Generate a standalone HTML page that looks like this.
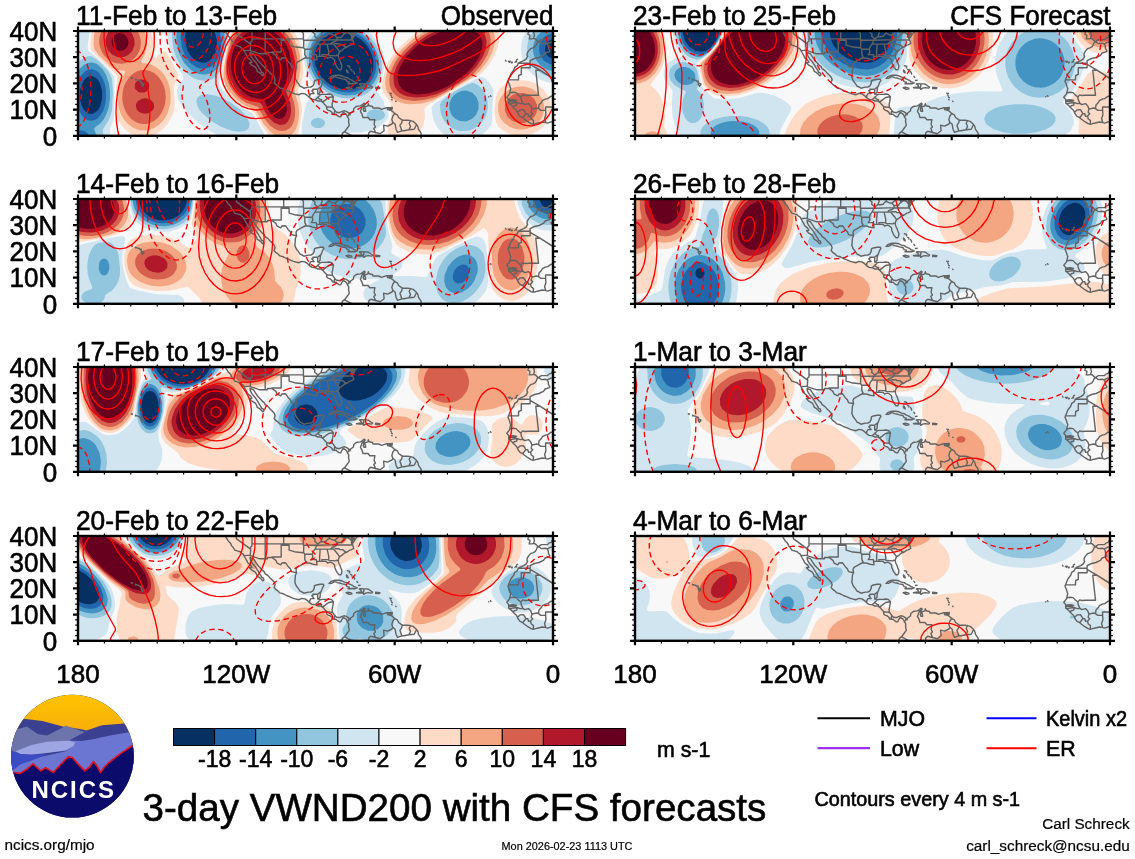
<!DOCTYPE html>
<html lang="en"><head><meta charset="utf-8"><title>3-day VWND200 with CFS forecasts</title>
<style>html,body{margin:0;padding:0;background:#fff}body{width:1135px;height:859px;overflow:hidden}svg{display:block}text{font-family:'Liberation Sans', Arial, Helvetica, sans-serif;fill:#000;stroke:#000;stroke-width:.6px}.sm{stroke-width:.2px}.er{fill:none;stroke:#ff0000;stroke-width:1.35;stroke-linejoin:round}.dash{stroke-dasharray:5.5 3.5}.cst{fill:none;stroke:#636363;stroke-width:1.4;stroke-linejoin:round;stroke-linecap:round}.t26{font-size:26px}.t21{font-size:21.3px}</style></head><body>
<svg width="1135" height="859" viewBox="0 0 1135 859">
<rect width="1135" height="859" fill="#fff"/>
<defs>
<g id="coast" class="cst"><path d="M147.2 -1.3L147.0 -0.5L148.3 1.8L150.4 5.2L151.7 6.3L153.1 8.1L153.3 9.4L155.2 11.5L156.8 14.1L160.2 15.2L162.3 15.7L162.8 16.5L165.2 18.1L166.0 19.6L167.0 21.5L168.9 24.9L169.7 26.7L172.6 29.1L173.9 31.4L171.5 31.8L173.4 33.8L175.2 34.8L177.3 36.2L178.7 38.5L179.2 40.3L180.8 41.1L183.1 43.0L184.7 44.8L186.0 44.0L185.2 41.9L183.7 41.4L182.9 39.6L181.3 37.2L179.7 34.3L178.7 32.8L177.3 30.7L175.5 28.8L173.6 26.2L172.3 23.6L172.1 21.5L175.5 22.8L177.3 25.7L178.9 28.0L179.7 29.3L182.1 31.7L183.9 33.8L186.3 35.9L187.1 37.7L190.0 39.6L191.6 41.4L194.2 44.0L196.1 45.9L197.1 48.5L196.6 50.3L196.1 51.4L197.4 53.2L199.8 54.8L201.9 56.9L205.3 57.8L208.5 59.5L211.4 60.7L214.8 62.1L218.8 63.3L221.1 63.7L223.8 62.4L226.9 62.9L229.6 64.7L231.7 66.8L234.1 68.4L237.5 68.9L240.1 70.0L243.3 70.0L244.1 71.0L245.4 71.8L246.7 73.6L248.8 75.7L248.6 77.8L250.4 79.4L251.8 79.6L254.1 81.5L254.4 82.8L256.2 83.3L258.1 83.1L259.4 84.6L261.5 85.9L262.8 85.7L263.6 83.8L265.2 81.5L267.8 82.8L268.9 84.4L269.4 85.9L270.8 87.8L270.5 90.4L271.3 94.3L268.6 98.0L267.1 100.1L264.4 102.4L263.6 104.8L262.6 106.1M270.9 82.1L268.4 80.4L266.5 79.8L264.2 80.4L261.2 81.7L258.1 81.0L257.0 79.6L254.4 76.2L254.1 73.4L254.7 70.7L255.4 65.8L253.3 63.4L250.7 63.0L248.1 63.4L244.1 63.4L242.2 63.7L240.4 63.1L242.0 61.6L242.2 59.0L242.5 56.6L243.8 53.7L244.4 51.9L245.9 49.3L245.2 48.2L242.2 48.2L238.3 49.0L236.4 49.8L236.2 52.4L234.9 54.8L232.8 56.1L230.4 56.1L225.9 57.2L223.8 55.8L221.9 55.0L220.6 52.9L218.2 49.8L216.9 46.4L217.2 42.4L217.4 39.3L218.6 36.8L218.0 33.3L219.0 31.4L221.7 29.9L224.3 28.3L226.9 27.0L229.6 26.9L232.2 27.2L234.1 28.0L237.0 28.6L239.1 28.8L238.6 26.5L239.3 25.4L242.8 25.4L244.9 25.4L248.1 25.4L249.6 27.0L252.5 26.2L254.7 27.2L256.5 28.8L256.8 31.4L258.1 34.6L259.1 36.4L261.0 38.8L262.8 38.8L263.6 37.2L263.9 34.6L262.6 31.4L262.3 30.1L261.2 28.0L260.5 26.2L260.2 24.4L261.0 21.7L261.8 20.7L264.2 19.1L266.5 17.0L269.2 16.0L271.8 14.1L273.1 13.9L275.8 12.4L275.2 10.5L274.4 8.1L273.4 7.3L273.7 5.2L273.1 2.6L274.2 1.6L274.4 3.9L274.7 7.3L276.3 5.2L277.0 3.9L276.0 2.1L277.3 2.8L278.7 1.6L279.7 0.0L279.7 -1.6M270.9 82.1L272.1 83.8L272.6 82.0L273.7 81.2L275.5 79.9L275.8 77.6L277.6 76.0L279.2 75.2L282.4 74.9L284.5 73.6L286.1 72.2L287.1 72.8L286.8 73.9L285.3 75.7L286.1 76.2L285.3 78.6L286.1 80.4L287.6 80.4L287.4 78.1L286.3 76.2L289.8 74.9L290.3 72.8L291.1 74.7L294.5 75.5L295.0 77.0L298.2 77.0L300.8 77.0L303.5 78.3L305.6 77.6L308.8 76.8L311.7 76.8L310.1 77.3L309.5 78.6L312.7 79.4L314.6 80.4L316.7 82.5L319.3 83.8L320.6 86.5L323.3 88.3L324.6 89.1L327.5 89.3L329.9 89.1L332.5 89.6L335.1 90.4L337.0 92.0L338.6 93.5L339.9 95.6L340.4 98.2L341.7 100.1L343.1 102.2L343.1 104.0L341.5 105.3L339.9 106.4M251.0 47.4L253.3 45.3L256.0 44.5L257.6 44.1L260.7 44.3L263.9 44.8L266.5 46.1L269.2 46.6L271.0 47.9L274.4 49.3L275.5 50.3L278.4 51.6L279.3 51.9L277.1 52.7L274.4 52.5L270.0 52.8L271.3 51.1L269.2 50.6L267.8 48.5L264.2 47.9L262.6 47.2L259.1 46.6L258.6 46.1L256.5 45.6L254.9 46.6L253.3 47.4L251.0 47.4M278.5 56.7L282.4 57.1L285.0 57.1L285.8 58.3L287.6 57.1L290.3 56.6L293.7 57.1L294.6 56.1L292.9 55.0L290.5 53.2L288.4 52.9L285.8 52.9L282.9 52.7L281.3 52.9L282.9 54.2L283.9 56.1L281.0 56.2L278.5 56.7M268.2 56.7L270.5 56.3L273.7 57.1L273.9 57.9L271.3 58.4L268.6 57.1L268.2 56.7M297.7 56.3L301.9 56.6L301.6 57.6L297.7 57.6L297.7 56.3M311.7 76.8L314.3 76.5L314.0 78.3L311.7 78.3L312.7 77.3L311.7 76.8M268.6 39.0L269.7 40.3L270.2 41.9L268.9 41.1L268.4 39.8L268.6 39.0M269.4 34.8L271.3 35.1L271.8 35.9L271.3 36.9M272.6 38.3L273.9 39.0L273.9 40.1M275.5 40.6L276.3 41.7L276.6 43.0M280.5 49.5L282.1 49.3M278.9 45.3L279.7 46.4M311.9 62.1L313.5 62.4L312.4 62.9L311.9 62.1M313.5 66.0L314.3 66.8M313.0 64.2L313.2 64.7M313.8 68.4L314.0 68.9M317.7 70.2L318.0 70.5M63.3 51.9L66.0 53.2L64.4 55.2L63.3 53.4L63.3 51.9M61.5 49.9L63.3 50.3L62.3 50.8L61.5 49.9M59.9 49.3L61.2 49.5M57.5 48.3L58.8 48.7L57.8 49.0L57.5 48.3M53.4 46.8L54.5 46.9L54.1 47.4L53.4 46.8M451.5 -0.8L450.2 1.8L449.9 3.4L451.8 4.2L451.8 5.5L451.2 7.9L453.9 7.9L455.5 7.3L456.8 7.6L458.4 8.9L460.2 10.5L461.0 10.1L463.4 8.6L467.1 8.6L469.5 8.6L470.8 7.1L473.2 6.3L474.5 3.9L475.5 3.1M455.5 7.3L456.5 4.7L455.7 1.3L456.8 -0.8M475.8 10.7L472.4 11.3L469.2 12.8L467.1 12.3L463.1 12.6L461.0 10.7L459.4 11.0L458.4 13.6L457.1 15.7L454.9 16.8L452.6 17.7L450.6 19.9L449.1 22.3L449.1 24.6L449.7 25.2L448.3 27.8L445.7 29.6L441.0 31.6L440.2 32.5L439.4 34.6L436.7 36.4L435.7 39.3L433.0 42.7L432.0 45.1L430.0 50.3L431.5 53.7L432.2 56.3L432.8 57.4L431.5 62.9L428.8 66.3L430.7 68.6L430.7 72.0L431.5 72.8L433.6 74.4L435.4 76.5L438.1 78.9L438.8 79.9L439.9 82.5L442.0 85.4L444.7 86.7L446.5 88.3L449.9 90.7L453.1 92.7L455.2 93.4L459.2 92.2L464.4 91.0L467.1 91.4L469.7 92.2L472.4 91.2L475.8 89.9M430.4 30.5L432.2 30.1L431.5 31.3L430.4 30.5M433.3 31.2L434.4 31.2L433.8 32.0L433.3 31.2M437.0 31.2L438.3 29.9L438.5 30.9M438.6 28.8L439.5 28.3M427.5 29.3L428.0 30.1M412.5 64.7L413.0 65.5M410.6 65.8L410.9 65.9M166.0 19.6L172.3 19.1L172.1 19.6L181.8 22.8L189.5 22.8L189.5 21.5L194.0 21.5L197.9 24.4L199.2 27.2L202.7 28.8L204.0 27.0L207.4 26.7L210.3 30.7L212.4 32.8L213.5 35.6L218.6 36.8M231.7 66.8L231.7 64.7L233.0 62.6L236.2 62.6L233.8 59.7L234.9 59.6L234.9 58.2L239.7 58.2L239.7 63.1L240.4 63.1M239.7 58.2L242.0 56.3L242.5 56.6M237.2 68.8L239.1 67.1L239.7 66.3L241.5 68.1L243.6 68.6L243.3 70.0M239.7 66.3L241.5 64.7L242.2 63.7M244.1 71.0L246.2 70.0L248.1 68.4L250.7 66.5L252.0 66.3L255.4 65.8M248.8 75.7L251.5 76.0L254.4 76.2M256.2 83.3L256.2 81.2L257.0 79.6M269.4 85.9L270.8 84.1L270.9 82.1M286.8 73.9L284.2 75.7L282.4 80.4L283.9 82.8L285.0 86.5L290.0 86.5L291.9 88.8L296.9 88.6L296.1 93.5L297.4 95.9L295.8 97.5L297.7 101.7L298.5 101.7M267.1 101.1L270.0 102.7L273.1 104.3L276.3 105.1M298.5 101.7L292.7 100.3L290.8 101.9L290.3 104.8M298.5 101.7L302.2 102.7L306.1 99.8L305.6 94.1L309.5 95.1L314.0 93.0L314.8 91.2M316.7 82.5L314.8 85.2L313.8 88.6L314.8 91.2M314.8 91.2L317.2 93.3L318.0 98.2L319.6 101.4L323.8 99.8L325.9 99.8M324.1 89.1L323.8 91.7L321.9 94.3L323.8 99.8M332.5 89.6L331.2 92.2L332.5 95.6L330.9 98.8L325.9 99.8M338.6 93.5L336.2 98.2L330.9 98.8M285.8 53.2L285.8 55.5L285.0 56.3L285.8 57.6M440.2 32.3L452.1 32.3L452.1 29.6L456.5 27.5L461.0 26.5L465.5 24.4L467.1 22.0L471.6 20.7L471.8 19.6L470.5 17.6L470.2 14.7L469.2 12.8M452.1 32.3L452.1 36.7L443.3 36.7L443.3 43.4L440.7 44.5L440.4 48.9L430.3 48.9M452.1 33.3L462.3 39.3L476.3 48.5M462.3 39.3L457.8 39.3L460.2 61.6L460.5 64.2L450.5 64.2L446.8 64.5L444.7 63.9L442.8 66.0M431.5 62.9L432.2 61.6L435.4 61.2L438.1 61.6L440.2 63.9L442.8 66.0M442.8 66.0L443.3 68.9L444.9 72.3M430.7 69.2L435.2 68.6L438.6 69.4L437.3 70.2L433.3 70.3L430.8 70.6M430.9 72.4L433.6 72.2L438.8 71.5L438.8 74.1L436.2 74.7L435.4 76.1M438.8 71.5L442.3 72.6L444.9 72.3M444.9 72.3L446.8 73.6L450.5 72.6L452.8 74.9L453.9 78.1M439.9 81.1L442.0 78.9L445.4 78.6L447.0 81.0L447.8 82.5M444.7 86.7L447.0 83.8L447.8 82.5M447.8 82.5L449.9 82.8L450.5 85.4L452.6 84.9M453.9 78.1L453.1 81.2L454.7 82.8L452.6 84.9M452.6 84.9L453.1 87.8L455.5 89.6L455.2 93.4M453.9 78.1L458.6 77.0L460.5 77.6M460.5 77.6L461.0 73.9L463.4 71.5L464.4 69.7L467.3 68.1L469.7 67.6L473.2 65.2L475.8 65.5M460.5 77.6L462.9 79.4L467.6 79.4M467.6 79.4L467.9 83.8L466.6 87.5L467.6 91.2M467.6 79.4L467.6 76.0L473.7 76.0L475.8 75.7M462.3 39.3L476.3 48.2M174.0 7.9L205.8 7.9L225.4 7.9M158.3 -1.3L158.3 2.6L172.6 13.1L172.6 14.9L172.3 19.1M174.0 -1.3L174.0 10.0L172.6 11.0L172.6 13.1M187.2 -1.3L187.2 22.7M203.2 7.9L203.2 21.0L194.0 21.0M205.7 -1.3L205.7 7.9M205.7 0.0L223.5 0.0M203.2 9.2L211.1 9.2L211.1 14.1L216.4 15.7L220.3 16.2L225.6 16.8L225.8 9.2M223.5 0.0L225.4 2.4L225.4 9.2L237.0 9.2L238.8 9.2M225.8 16.8L226.8 18.3L226.8 23.6L228.0 25.7L227.3 27.0M226.8 18.3L234.3 18.3M233.5 -1.0L234.9 1.3L237.0 3.1L236.7 5.2L238.8 7.1L239.9 7.9L238.8 9.2L238.3 10.5L237.2 12.8L235.1 15.7L234.3 18.3L234.9 21.0L233.3 23.6L238.3 23.6L238.6 25.7M238.8 9.2L254.1 8.9L259.4 8.9L274.7 9.0M236.7 13.1L249.1 13.1L252.5 13.1L255.7 13.1M242.2 13.1L241.6 21.2L241.7 25.4M249.1 13.1L250.7 20.2L250.7 23.6L243.8 23.6L244.1 25.4M250.7 23.6L251.0 24.4L258.1 24.9L258.6 24.1L259.9 24.4M255.7 13.1L257.0 14.7L259.9 18.3L261.5 20.7M255.7 13.1L257.8 12.6L261.2 12.8L261.8 13.6L264.7 13.6L267.7 16.1M252.5 13.1L254.1 11.5L257.0 10.5L259.4 8.9M239.9 7.9L242.8 5.8L245.2 5.8L248.1 5.2L249.6 3.4L251.2 2.4L254.1 3.7L257.0 4.2L258.1 3.1L259.4 2.1L262.3 -1.3M242.8 5.8L244.1 2.6L244.1 -1.3M251.2 2.4L251.2 -1.3M257.0 4.2L258.9 6.5L259.4 8.9M258.9 6.5L263.1 6.5L265.2 3.9L268.4 1.6L270.0 1.8L271.8 2.9L273.7 5.2M262.6 0.7L275.0 0.7L276.0 0.5M265.2 0.7L265.2 2.1L268.4 1.6M275.0 0.7L275.2 4.1L277.0 4.1"/></g>
<clipPath id="c00"><rect x="0" y="0" width="475" height="104.8"/></clipPath>
<clipPath id="c01"><rect x="0" y="0" width="475" height="104.8"/></clipPath>
<clipPath id="c02"><rect x="0" y="0" width="475" height="104.8"/></clipPath>
<clipPath id="c03"><rect x="0" y="0" width="475" height="104.8"/></clipPath>
<clipPath id="c10"><rect x="0" y="0" width="475" height="104.8"/></clipPath>
<clipPath id="c11"><rect x="0" y="0" width="475" height="104.8"/></clipPath>
<clipPath id="c12"><rect x="0" y="0" width="475" height="104.8"/></clipPath>
<clipPath id="c13"><rect x="0" y="0" width="475" height="104.8"/></clipPath>
</defs>
<g transform="translate(78 31)" clip-path="url(#c00)">
<rect width="475" height="104.8" fill="#f8f8f8"/>
<path fill="#fddbc7" d="M16.9 -10L68.1 -10L72.3 -2L74.7 6L75.3 16L73.7 26L76 27L78 26.6L82 22.6L86 20.4L88 20.8L92 27.1L100.1 44L100 46L97 52L95.8 56L96.6 72L96.3 78L94.6 84L90 92.5L84 99.1L78 103.1L74 104.7L68 105.9L62 105.7L58 104.7L52.1 102L48 99.1L43.1 94L40 89.2L38.6 84L37.9 74L38.1 60L39.3 46L38.4 44L13.8 20L12.7 18L12.4 12L13.6 2ZM158.2 -8L160.2 -10L205.8 -10L215.5 0L221.4 10L223.6 18L225.4 40L224.7 46L222.9 52L220.4 58L220.2 60L223.7 74L224 80L222 94L220 103.2L218 107.5L214 110.7L210 112.1L204 112.1L198 110.1L194 107.3L190 103.2L186 97.8L176 81.1L166 75.7L158 70L150 62L146 56L144 51.3L143.6 48L145.7 32L152 4.2L155 -4ZM356.3 -8L360.1 -10L414.2 -10L418.6 -4L420.8 2L421.1 10L419.3 18L416.8 24L413.4 30L407.6 38L403.6 42L397.6 46L350.2 74L347.8 76L346.3 78L346.9 86L345.5 94L342.5 100L339.2 104L334 107.7L330 109.3L324 109.9L320 109.3L316 107.7L312 105L310 102.7L309.3 100L309.6 94L313.3 86L313.4 82L312.6 78L313 74L312.7 72L311.4 70L305.6 62L303.8 56L304 52L308.2 36L310 31.3L313.3 26L319.9 18L326 11.9L332 6.8L340 1L350 -5ZM435.2 50L440 49.2L446 49.2L452 50.3L456.4 52L460 54L465 58L468.3 62L471.4 68L472.5 72L473 78L472.5 82L470.6 88L468 92.4L464 97L460 100L454 103L450 104.2L444 105L438 104.6L432 103L428 101.2L423.2 98L420 94.9L418 90.9L416.7 84L416.5 78L417.6 68L419 62L421.3 58L424 55.4L430 51.8Z"/>
<path fill="#f4a582" d="M21.3 -8L22.6 -10L60 -10L65.5 -2L68.4 6L69 14L67.3 22L63.2 30L63.8 32L70 32.8L74 34L78 36L83 40L86.4 44L89.6 50L91.6 56L92.6 62L92.4 72L89.6 82L87.5 86L84 90.9L80 94.6L76 97.1L72 98.7L68 99.4L62 99.2L58 98L54 96L50 92.9L46 88.4L43.4 84L41.7 80L40.3 74L40 62L42 51.1L46.8 42L47 40L38 38.7L34 36.7L20.7 24L16.3 18L15.5 12L16.1 4L18 -2.5ZM164.6 -8L167.2 -10L198.8 -10L206 -4.7L210.8 0L215.3 6L219.2 14L222 24.6L222.5 38L220.6 48L216.7 58L216.4 60L220.4 74L221.1 80L221 84L220 91.8L218 98.1L216 101.2L214 103.2L210 105.5L206 106.2L202 105.8L196 103.3L192 100.3L186 93.5L178 79.7L166.3 74L158.2 68L151.1 60L146.9 52L145.5 46L146 36.7L148 25L152 8.6L154 3L156 -0.7L160 -4.7ZM363.6 -8L367.8 -10L406.5 -10L411.1 -6L414 -2.5L416 2L416.8 6L416.7 12L415.3 18L412.9 24L409.6 30L401.9 40L394.8 46L362 65.8L354 69.8L344 72.4L332 73.3L328 72.9L322 71.4L316 68.5L312.9 66L309.7 62L308 58L307.1 52L308 45L310 38.6L314.4 30L318.7 24L324 18L335.1 8L348 -0.6ZM437.4 56L442 55.4L446 55.5L450 56.4L454.1 58L458 60.5L461.5 64L464.1 68L465.6 72L466.2 76L466 80L464.9 84L463 88L460 91.7L457.3 94L454 96.1L450 97.6L446 98.5L440 98.5L436 97.6L432 96.1L426 91.7L423 88L421.1 84L420.1 80L420.1 74L421.1 70L423 66L426 62.3L428.7 60L432 57.9Z"/>
<path fill="#d6604d" d="M31 -8L33.8 -10L48.7 -10L56 -4.6L60 0.7L62.1 6L62.8 10L62.8 14L62 18L60.4 22L58 25.6L55.7 28L52 30.6L48 32.1L44 32.8L40 32.6L36 31.7L29.6 28L26 24.3L24 21.3L21.9 16L21.2 12L21.2 8L22 4L23.6 0L26 -3.6ZM173.4 -8L180 -9.9L186 -9.9L194 -7.5L200 -4.6L206 0L210 4.4L214 10.6L217.2 18L219.3 28L219.3 38L217.2 48L212.3 60L216.2 72L217.1 78L217.1 84L216 90L214.2 94L212 96.9L208 99.5L204 100.1L200 99.4L196 97.5L192 94.4L186 87L180.1 76L168 71.7L162.4 68L158.1 64L152.3 56L148.8 48L147.6 42L148 31.2L150 20.7L154 7.8L158 2.1L162 -1.7L168 -5.7ZM372.7 -8L380.3 -10L394 -10L398 -8.8L404 -5.9L406.6 -4L410 -0.1L411.9 4L412.7 8L412.1 16L409.3 24L403.2 34L396.3 42L389.1 48L369.6 60L358 65.9L346 69.1L336 69.9L326 68.5L322 67L318 64.5L315.4 62L312.8 58L311.6 54L311.3 48L311.9 44L313.8 38L316.8 32L320.8 26L325.8 20L331.9 14L344 4.8L358 -2.9ZM59.8 40L64 39L68 39L72 39.9L76.1 42L80 45.3L83.5 50L86 55.5L87.2 60L87.7 66L87.2 72L86 76.5L83.5 82L80 86.7L76.1 90L72 92.1L68 93L64 93L60 92.1L56 90.1L53.3 88L50 84.3L48 81.2L46 76.5L44.8 72L44.3 68L44.5 62L45.8 56L47.4 52L52 45.3L56 41.9ZM439.7 62L446 61.9L452 64.2L456.3 68L459.1 74L459.1 80L457.6 84L454 88.4L448 91.6L444 92.3L440 92.1L434.3 90L429.7 86L426.9 80L426.9 74L429.7 68L434 64.2Z"/>
<path fill="#b2182b" d="M377.5 -6L388 -6.6L396 -5.1L402 -2L404.3 0L407 4L408.6 10L407.8 18L404.7 26L398 36L390.4 44L379.9 52L366 59.9L358 63.2L348 65.8L338 66.6L330 65.6L326 64.3L322 62L319.7 60L317 56L315.7 52L315.5 46L316.2 42L318.3 36L321.6 30L326 24L336 13.9L342 9.2L350 4.1L364 -2.5ZM38.3 -4L44 -4.2L50 -1.6L54 2.6L56.3 8L56.5 14L54.2 20L50.3 24L46 25.9L40 26.2L34 23.6L30 19.4L27.7 14L27.5 8L29.8 2L33.7 -2ZM173.3 -4L180 -5.5L186 -5.5L192 -4.3L198 -1.6L204 3L208 7.4L211 12L214 18.9L215.4 24L216.2 30L215.7 40L213.7 48L208 60L212.3 72L213.1 78L212.9 82L212.1 86L210.3 90L208 92.4L206 93.5L202 94L196 91.7L190 85.9L186.5 80L184 73.8L182.1 72L172 69.5L168 67.6L163.1 64L159.2 60L156.2 56L152 47.1L150.3 40L149.9 32L152 19.8L154 14.2L157.6 8L162 3L168 -1.6ZM59.1 50L62 48.6L64 48.4L68 49.3L70.7 52L71.3 54L70.7 58L68 60.7L66 61.5L62 61.5L60 60.7L57.3 58L56.7 56L57.3 52ZM63.5 68L66 67.2L68 67.2L72 68.6L74 70.1L75.5 72L76.2 76L75.5 78L73.9 80L70 82.3L66 82.8L62 81.4L60 79.9L58.5 78L57.8 74L58.5 72L60 70.1Z"/>
<path fill="#67001f" d="M371.9 -2L382 -3.4L390 -2.7L397.2 0L401.6 4L404.2 10L404.5 14L404 18L401.1 26L396 34L388.7 42L380 49.1L370 55.2L360 59.7L350 62.4L340 63.4L332 62.3L326 59.5L324 57.9L321.1 54L319.8 50L319.5 46L320 42L322 36L328 26L337.5 16L348 8.2L360 1.9ZM173.1 0L178 -1.5L184 -1.9L190 -1L196 1.5L202 5.9L205.6 10L208.2 14L210.9 20L213 30L212.5 40L209.3 50L203.2 60L207.8 70L208.9 76L208.7 80L207.4 84L206 86.1L204 87.4L200 87.8L196.2 86L194 84.2L190 78.5L187 70L186 68.6L174 66.3L170 64.5L166 61.8L160 55.5L157.8 52L155.1 46L153.5 40L152.9 32L154 24L155.8 18L159 12L162 8L168 2.7ZM36.6 4L40 2.3L42 2.1L46 3.3L48.8 6L49.9 8L50.5 12L49.2 16L47.4 18L44 19.7L42 19.9L38 18.7L35.2 16L34.1 14L33.5 10L34.8 6Z"/>
<path fill="#d1e5f0" d="M-10 -10L13.2 -10L11.2 2L9.7 16L9.8 18L10.5 20L18 25.7L24.8 32L32.2 40L36.5 46L36.1 84L35.2 90L31.9 98L33 108L32.1 116L-10 116L-10 38.4L-5.7 30L-4.4 26L-6 24L-10 21.6ZM91.2 -10L151.5 -10L152.4 -6L151.9 0L140.9 52L142.7 56L145.4 60L153.5 68L162 75L173.9 82L175.8 84L185.7 102L187.3 106L187.3 108L185.4 110L182 111.9L178 113L168 113.1L156 110.7L144 106.2L132 99.9L120 91.4L111.9 84L102 72L99.9 68L99.1 62L99.4 58L100 56L102 52.5L105.4 48L105.3 46L96 28.9L92.4 20L90.7 14L89.4 4ZM247.7 -8L253.6 -10L268.7 -10L274 -8.5L282 -5.1L288 -1.4L294.1 4L299.2 10L304.5 20L306.3 26L306.8 30L306 38L304 45.9L299.2 60L299.6 62L302 64.2L305.6 70L306.2 74L310 80.7L310.8 84L310 87L308 89.8L298 98.2L296 99L282 101.5L262 102L255.6 106L250 108.4L244 109.7L236 109.7L230 108.4L226 106.8L224 105.3L223.6 104L224.1 92L228.3 72L229.5 70L231.9 68L240 63.6L241.4 62L232.7 50L228.6 42L226.1 30L226 18L227.2 12L229 8L233.1 2L240 -4.1ZM455.1 -8L456.9 -10L486 -10L486 51L480 51.9L474 51.9L468 50.8L464 49.4L458 46.1L454 43L450 38.6L447 34L445.2 30L443.5 24L443 18L443.5 12L445.2 6L447 2L451.1 -4ZM402 46L404.6 46L408 48.3L412 52.7L415.1 58L415.4 64L414.5 74L414.1 90L413.1 94L410 98.2L404 103.7L400 106.1L394 108.5L388 109.7L382 109.7L376 108.5L370 106L364 101.7L360.5 98L358 94.3L355.4 88L354 81.9L353.6 76L355 74L357.4 72L372.1 62L386 53.8Z"/>
<path fill="#92c5de" d="M95.7 -8L96.2 -10L146.6 -10L149.4 -2L149.1 6L146 22.4L142 39.3L140 44.2L138 46.1L134 48.2L130 49.4L126 49.7L120 48.7L116 47.2L112 44.8L108 41.4L104 36.8L98 26.1L95 16L93.9 4L94.4 -2ZM466.5 -8L471.3 -10L482.7 -10L486 -9.1L486 44.7L480 45.8L476 46L470 45.1L466 43.8L462 41.6L457.4 38L454 34L450.8 28L449.3 22L449.1 16L450.2 10L451.7 6L454 2L458 -2.6L462 -5.6ZM251.7 -6L258 -7.2L266 -7L274 -5.3L280 -2.8L286 0.9L292 6L296.9 12L300.3 18L302.6 24L304 32L303.8 38L302 45.8L299.2 52L296 56.4L290 61.7L284 64.9L276 67.1L270 67.5L264 67L256 64.7L248 60.6L242 55.9L236 49.3L231.7 42L229.1 34L228 26L228.7 18L230.7 12L234.1 6L239.8 0L246 -3.9ZM7.3 26L12 25.1L14 25.6L18 27.9L24 33.3L30 40L32.5 44L34 48.1L35 62L34 79.7L32.1 86L30.3 90L25.1 98L24.8 100L25.9 108L24.7 116L-10 116L-10 88.7L-8 87.6L-7 86L-7.1 84L-10 73.3L-9.9 54L-6.9 44L-3.1 36L2 29.5ZM388.8 54L394 52.1L396 52L400 54.1L404 57.8L406.9 62L409.2 68L409.9 72L409.7 78L408.1 84L406.2 88L403.2 92L400 95L396 97.6L392 99.2L388 100.1L382 100L378 99L374 97.2L367.8 92L365.1 88L363.4 84L362.4 80L362.1 74L362.6 72L363.9 70L368.5 66L377.4 60ZM123.4 64L130 63.3L138 64.7L146 67.7L154 72.4L163.8 80L168.9 86L171.5 92L171.2 96L170 97.9L168 99.4L164 100.6L160 100.7L154 99.8L144 96.3L133.1 90L124.1 82L121.1 78L119.1 74L118.4 70L118.8 68L120 66ZM291.1 80L296 78.2L302 78.7L304.7 80L306.5 82L307.1 84L306.5 86L304.6 88L302 89.3L298 89.9L294 89.3L291.2 88L289.3 86L288.7 84L289.2 82ZM235.4 88L240 86.7L244 87.7L246.6 90L247.2 92L246.6 94L244.6 96L242 97L238 97L236 96.3L233.4 94L232.8 92L233.4 90Z"/>
<path fill="#4393c3" d="M101.3 -10L141.5 -10L146.2 2L146.8 6L146.3 14L144 25.8L142 32.8L140 36.8L136 40.5L132 42.6L128 43.6L124 43.6L120 42.8L116 41L112 38.3L106 31.7L101 22L98.6 12L98.3 6L98.7 0ZM256 -4L262 -4.5L270 -3.5L276 -1.6L282 1.4L288 5.9L292 10L296.2 16L299 22L300.7 28L301.2 34L300.7 40L298.9 46L296 51.5L292.2 56L288 59.3L282 62.4L276 64L268 64.4L260 63L254 60.8L248 57.3L241.8 52L237 46L233 38L231 30L230.8 24L231.7 18L234 11.9L237.9 6L242.1 2L248 -1.6ZM475.8 -4L480 -3.8L486 -2.4L486 38.4L478 40L474 39.8L470 38.9L466 37.1L462 34.1L457.4 28L455.8 24L455 20L455 16L455.8 12L457.4 8L460 4L464 0.2L467.8 -2L472 -3.5ZM9.6 32L14 31.5L18 32.6L20 33.8L24.4 38L28 43.8L30.8 52L32 60L32 68L30.8 76L28.9 82L25.9 88L22 92.7L17.2 96L16.1 98L18.4 104L18.9 108L18.4 112L17.1 116L-10 116L-10 98L-4.5 94L0 92L0.8 90L-3.7 80L-5.6 72L-6.1 62L-4.8 52L-2.1 44L1.5 38L6 33.7ZM383.4 60L388 59.5L394 61.6L398.4 66L400.6 72L400.5 78L397.9 84L393.8 88L388 90.4L382 90.1L377.5 88L373.6 84L371.4 78L371.5 72L374 66.4L376.2 64L379 62Z"/>
<path fill="#2166ac" d="M106.9 -10L135.9 -10L139.3 -4L141.7 2L143 8L143.3 14L142.6 20L140.8 26L138.7 30L136 33.3L132 36.2L126 37.8L122 37.4L118 36L112 31.5L106.7 24L103.7 16L102.6 6L103.7 -2ZM252 0L258 -1.4L264 -1.6L270 -0.7L276 1.3L282 4.6L286.4 8L290.2 12L294.2 18L296.8 24L298.1 30L298.3 36L297.2 42L294.6 48L292 51.8L288 55.6L284 58.3L278 60.6L272 61.6L264 61.1L258 59.5L252 56.7L246 52.3L241.8 48L237.8 42L235.2 36L233.7 28L233.9 22L235.5 16L238 11L242 6.1L246 2.9ZM475.7 2L480 2.2L486 4.3L486 31.7L482 33.3L478 34L472 33.3L466.3 30L463.1 26L461.1 20L461.4 14L464.4 8L466.3 6L470 3.5ZM7.4 40L10 38.7L14 38.2L18 39.6L20 41.1L22.6 44L24.9 48L26.5 52L27.8 58L28.2 64L27.8 70L26.5 76L24.9 80L22.6 84L20 86.9L18 88.4L14 89.8L10 89.3L8 88.4L4 84.8L0.2 78L-1.8 70L-2 60L-0.5 52L1.1 48L3.4 44ZM-0.7 100L2 99.2L6 99.7L9.5 102L10.9 104L11.6 106L11.6 110L10.9 112L7.9 116L-1.9 116L-4.9 112L-5.6 110L-5.6 106L-4 102.6Z"/>
<path fill="#053061" d="M112.5 -8L114.1 -10L128.6 -10L134 -4L136.3 0L138.7 8L139 14L138.5 18L137.3 22L135.1 26L132 29.3L130 30.6L128 31.4L124 31.8L118 29.8L113.5 26L109.7 20L107.3 12L107.2 4L108.7 -2ZM255.5 2L260 1.2L266 1.4L272 2.7L276 4.2L282 7.8L286 11.3L289.9 16L292.2 20L294 24.4L295.3 30L295.4 36L294.7 40L292.3 46L290 49.5L286 53.4L282 56L276 58.1L270 58.9L264 58.3L258 56.6L252 53.6L247.4 50L243.6 46L239.8 40L237.5 34L236.6 28L236.9 22L238.7 16L242 10.5L246 6.6L250 4ZM475.9 8L480 8.4L482 9.3L486 12.5L486 23.5L482 26.7L478 28L474 27.6L470.9 26L468.9 24L467.1 20L467.1 16L468.9 12L472 9.3ZM9.3 46L12 44.9L14 44.9L18 46.9L20 49L22 52.5L24.1 60L24.1 68L22 75.5L20 79L18 81.1L14 83.1L10 82.4L6 79L3.4 74L1.9 68L1.9 60L3.4 54L6 49Z"/>
<use href="#coast"/>
<path class="er" d="M75.2 -10L76 -3.2L76.3 6L76.1 16L75.5 20L74 26.1L72.2 30L65.6 40L64.8 42L65.1 44L68.2 52L70 59.1L71.4 68L72 78L71.7 88L70.5 98L68.8 106L65.5 116M186.3 -10L195.6 -4L200 -0.4L205.7 6L210 12.7L213.4 20L216 29.1L217.1 38L217 46L215.9 54L213.4 62L209.3 70L204.7 76L198 81.7L192 85L186 86.9L178 87.7L172 87L166 85.3L160 82.4L153.8 78L148 72.1L144 66.6L140 59.1L138 53.2L137.9 44L139.7 34L142 24.7L146 12.4L150 2.7L154 -4.3L156 -6.6L160.3 -10M434.4 -10L432.2 -6L429.1 -2L419.5 8L406.9 18L396.7 24L371.2 36L362 39.5L346 43.2L338 44.2L330 44.5L322 44.1L314 42.7L312 41.9L310 40.1L308 36.7L302 20.4L300 13.5L298.3 4L299.3 0L305.8 -10M446 34L450 33.2L456 33.5L462 35.7L466 38.4L470 42.6L473.3 48L475.6 54L476.7 60L476.9 66L476.1 72L474.2 78L471 84L468 87.7L464 91.1L460 93.3L454 94.8L448 94.5L444 93.3L440 91.1L436.3 88L433 84L430.7 80L429 76L427.5 70L427.1 64L427.5 58L429 52L430.7 48L434 42.6L438 38.4L442 35.7L446 34M44.5 116L41.8 108L39.8 100L38.6 92L38 82L38.3 72L39.5 62L41.2 54L43.7 46L43.4 44L36 36.4L32.9 32L30 26.2L28 20.2L26.7 14L26 6L26.4 -2L27.7 -10M66.1 -10L68.2 -2L68.8 4L68.2 12L66.6 18L64 23.1L60 27.7L56 30.1L52 30.8L48 30.1L44 27.7L40 23.1L37.4 18L35.8 12L35.2 4L35.8 -2L37.9 -10M414.9 -10L414.1 -8L411.3 -4L403.9 4L394 11.7L384 17.8L374 22.5L362 26.6L352 28.8L342 29.6L334 29.2L326 27L320 23.4L318 21.2L316.1 18L315 12L316 6L318.6 0L325.3 -10M166.4 -2L174 -3L180 -2.3L186 -0.3L192 3.2L197.4 8L202.2 14L206.4 22L208.8 30L210 38L209.8 46L208.2 54L204.9 62L200.8 68L196 72.7L190 76.4L184 78.4L178 79L170 77.7L164 75.3L158 71.2L152.8 66L148.6 60L145.6 54L143.2 46L142.4 40L142.7 34L144 26.7L148 14.6L152 7.4L155.2 4L160 0.6L166.4 -2M395.3 -10L393.4 -6L390 -1.8L384 3.4L378 7.3L372 10.3L364 13.1L358 14.3L352 14.7L346 14L342 12.4L339.2 10L338 7.8L337.5 4L338.4 0L340.6 -4L344.9 -10M171 6L176 5.8L182 7.1L186 9L190.3 12L194.3 16L198.3 22L200.8 28L202.3 34L202.8 40L202.3 46L200.9 52L198.1 58L195.2 62L190.8 66L186 68.7L182 69.8L178 70.2L172 69.5L166 67L161.7 64L157.7 60L153.7 54L151.2 48L149.7 42L149.2 36L149.7 30L151.1 24L153.9 18L158 12.7L162 9.4L166 7.3L171 6M167.9 16L172 14.7L176 14.5L180 15.4L184 17.3L187.5 20L190 22.8L192.1 26L194 30.3L195.3 36L195.5 40L194.8 46L193.4 50L191.2 54L188 57.5L186 59L182 60.8L178 61.5L174 61.2L168 58.7L164.5 56L162 53.2L159.9 50L158 45.7L156.7 40L156.5 36L156.8 32L157.8 28L159.6 24L162 20.5L164.7 18L167.9 16M171.5 24L176 23.3L178.9 24L182 25.7L185.8 30L187.6 34L188.2 40L186.7 46L184 49.8L180 52.2L178 52.7L174 52.3L170 50.3L166.2 46L164.4 42L163.8 36L164.5 32L166 28.7L168 26.2L171.5 24"/><path class="er dash" d="M81.7 -10L82.3 14L83.8 24L85.8 30L89.8 38L94 43.9L98 48L105 54L105.3 56L104 64L104.4 70L106.4 78L110 86.2L112.4 90L116 94.3L120 97.3L124 98.5L126 98.3L128 97.3L130 95L131.7 90L132 84L131.2 78L128.9 70L126.1 64L122.3 58L121.5 56L122.9 54L130 49.3L132 46.1L147.8 -4L148.9 -10M475.4 -10L471.5 -6L470 -3.6L468.7 0L468.2 6L469.5 12L471.8 16L473.9 18L478 19.5L480 19.3L482 18.4L486 15.3M486 -5.3L480.6 -10M272 0L264 1.2L258 3.4L252 6.7L245.4 12L240 17.9L235.9 24L232.1 32L229.8 40L228.9 48L229.1 54L230.9 62L233.4 68L237.6 74L242 78L248 81.5L254 83.4L262 84L270 82.8L277.2 80L283.8 76L290 70.7L295.6 64L300.2 56L302.4 50L302.6 46L302.2 42L300 32.8L294 15L290 6.7L288 4.1L284 1.7L278 0.2L272 0M390 43.6L386 44.8L382 47.3L379.2 50L376 54.1L373.8 58L371.3 64L369.7 70L368.7 76L368.5 82L369.1 88L370 92.1L372 97.4L374 100.7L377.3 104L380 105.6L384 106.5L388 106L392 104.1L396 100.9L398.5 98L401.1 94L404 87.9L406 81.4L407.2 74L407.3 68L406.8 62L405.4 56L403.7 52L400.9 48L398 45.5L394 43.8L390 43.6M-10 96.8L-6 97.7L-2 97.2L2 94.6L6 89.4L8.6 84L11 76L12.4 68L13 58L12.4 48L11 40L8.6 32L6 26.6L2 21.4L-2 18.8L-6 18.3L-10 19.2M88.8 -10L88.2 0L89 10L90.8 18L93.9 26L97.6 32L102 36.8L108 40.6L114 42L120 41.3L126 38.3L130 34.8L134 28.6L138 17.7L141 6L141.7 0L141.2 -10M478 1.7L475.8 4L476 6.6L478 8.3L480 6.6L480.2 4L478 1.7M264 13.8L260 15.4L255.6 18L250.9 22L247.5 26L244.9 30L242.2 36L241.1 40L240.4 46L240.8 52L241.7 56L243.5 60L246.2 64L250 67.5L254 69.8L258 71L262 71.4L268 70.8L274 68.6L280 64.8L284 61.1L287.9 56L291 50L292.9 44L293.6 38L293.1 32L292 27.8L289.2 22L285.9 18L282 15.2L276 13L270 12.6L264 13.8M-10 75.5L-6 77.4L-4 77.4L-2 76.4L0 74.2L2.7 68L3.5 64L4 58L3.5 52L2.7 48L0 41.8L-2 39.6L-4 38.6L-6 38.6L-10 40.5M97.3 -10L96.4 -2L96.6 4L97.5 10L99.4 16L102 20.9L106 25.5L110 28.1L114 29.1L118 28.8L120.2 28L123.4 26L127.2 22L130 17.3L132 11.9L133.4 4L133.6 -2L132.7 -10M266 25.8L260 28.7L256 32.8L253.1 38L251.9 44L252.7 50L254.8 54L258 56.9L260.3 58L264 58.7L270 57.6L272.9 56L276 53.5L280 48L281.5 44L282.1 40L281.3 34L280 31.2L278 28.6L276 27.1L272 25.5L270 25.3L266 25.8M106.4 -10L104.7 -2L104.7 2L105.3 6L108 12L110 14.2L112 15.5L114 16.1L116 16.1L118 15.5L120 14.2L122 12L124.1 8L125.1 4L125.4 0L125.1 -4L123.6 -10"/>
</g>
<path d="M78 31V26.5M78 135.8V140.3M236.3 31V26.5M236.3 135.8V140.3M394.7 31V26.5M394.7 135.8V140.3M553 31V26.5M553 135.8V140.3M78 31H73M553 31H558M78 57.2H73M553 57.2H558M78 83.4H73M553 83.4H558M78 109.6H73M553 109.6H558M78 135.8H73M553 135.8H558" stroke="#000" stroke-width="2.2" fill="none"/><path d="M104.4 31V28.4M104.4 135.8V138.4M130.8 31V28.4M130.8 135.8V138.4M157.2 31V28.4M157.2 135.8V138.4M183.6 31V28.4M183.6 135.8V138.4M209.9 31V28.4M209.9 135.8V138.4M262.7 31V28.4M262.7 135.8V138.4M289.1 31V28.4M289.1 135.8V138.4M315.5 31V28.4M315.5 135.8V138.4M341.9 31V28.4M341.9 135.8V138.4M368.3 31V28.4M368.3 135.8V138.4M421.1 31V28.4M421.1 135.8V138.4M447.4 31V28.4M447.4 135.8V138.4M473.8 31V28.4M473.8 135.8V138.4M500.2 31V28.4M500.2 135.8V138.4M526.6 31V28.4M526.6 135.8V138.4M78 36.2H75.2M553 36.2H555.8M78 41.5H75.2M553 41.5H555.8M78 46.7H75.2M553 46.7H555.8M78 52H75.2M553 52H555.8M78 62.4H75.2M553 62.4H555.8M78 67.7H75.2M553 67.7H555.8M78 72.9H75.2M553 72.9H555.8M78 78.2H75.2M553 78.2H555.8M78 88.6H75.2M553 88.6H555.8M78 93.9H75.2M553 93.9H555.8M78 99.1H75.2M553 99.1H555.8M78 104.4H75.2M553 104.4H555.8M78 114.8H75.2M553 114.8H555.8M78 120.1H75.2M553 120.1H555.8M78 125.3H75.2M553 125.3H555.8M78 130.6H75.2M553 130.6H555.8" stroke="#000" stroke-width="1.2" fill="none"/><rect x="78" y="31" width="475" height="104.8" fill="none" stroke="#000" stroke-width="2.4"/>
<text class="t26" transform="translate(76 24.8) scale(1.012 1.04)">11-Feb to 13-Feb</text>
<text class="t26" transform="translate(553.5 24.8) scale(1 1.04)" text-anchor="end">Observed</text>
<text class="t26" transform="translate(57.3 40.7) scale(1 1.04)" text-anchor="end">40N</text>
<text class="t26" transform="translate(57.3 66.9) scale(1 1.04)" text-anchor="end">30N</text>
<text class="t26" transform="translate(57.3 93.1) scale(1 1.04)" text-anchor="end">20N</text>
<text class="t26" transform="translate(57.3 119.3) scale(1 1.04)" text-anchor="end">10N</text>
<text class="t26" transform="translate(57.3 145.5) scale(1 1.04)" text-anchor="end">0</text>
<g transform="translate(78 199)" clip-path="url(#c01)">
<rect width="475" height="104.8" fill="#f8f8f8"/>
<path fill="#fddbc7" d="M-10 -10L46.9 -10L53.5 20L52.7 24L51.6 26L48.6 30L44 33.1L36.8 36L28 38.3L6 42.4L-2 42.4L-10 40.6ZM117.3 -10L186.1 -10L189 -2L190.8 6L191.4 14L191.2 22L192 25.6L204 33L209.5 38L213 42L216 46.2L219.1 52L221.3 58L222.6 64L222.9 72L222.2 78L220.6 84L218 90.5L215.5 102L213.4 106L210.2 110L204 115L202.4 116L140.8 116L130.2 110L126 106.7L120.5 98L110 87.8L92 91.8L77.9 92L66.6 90L60.2 88L55.6 86L52 82.2L50 78.3L47.7 72L46.3 64L46.2 58L48 48.7L50 44.3L52 41.5L54 39.9L60 37.5L66 36.2L72 35.7L80 36.1L88 37.6L94 39.4L102 43.3L110 48.4L112 48.7L118.5 40L118.9 38L114.4 28L113.6 24L116.8 4ZM311.7 -8L312.4 -10L415.6 -10L416 -9.1L418 -9L420.6 -10L429.4 -10L432 -8.9L434 -7.2L437 6L441.5 18L443.9 22L451.4 30L454.1 34L456.7 40L458.9 48L460 58L459.2 70L456.7 80L451.8 90L448 94.9L444 98.3L440 100.5L434 101.9L428 101.2L424 99.5L420 96.7L416 92.6L414 89.5L412.9 84L410.3 46L410.1 34L408 30.8L406 29.1L404 29.9L401.5 32L391.5 38L375.9 46L363.5 52L354 55.3L346 55.5L338 54.6L329.2 52L321 48L318 45.2L314 37.5L311.6 30L310.1 22L309.3 14L309.3 6L310 -1.8Z"/>
<path fill="#f4a582" d="M-10 -10L41.9 -10L46 -3.9L48 1.5L50 11.2L49.9 18L47.3 24L44.4 28L39.9 32L36.2 34L30.6 36L22.8 38L12 39.9L6 40.2L-2 38.9L-10 36.5ZM118.5 -10L181.6 -10L184.6 -2L186 4L186.5 10L186.2 16L185.1 22L182.9 28L175.3 40L175.7 42L179.2 48L187.4 54L192.1 60L194.1 64L196.1 70L197.2 82L202.8 88L205 92L205.7 96L205 100L202.8 104L198.5 108L194 110.4L188 112.2L182 112.8L176 112.2L162 108L158 106.2L152.6 102L149.2 98L146.8 94L144.4 88L143.3 82L143.1 76L143.9 70L145.1 66L150.2 56L150.9 50L148.7 48L138 44.7L130.4 40L124 33.8L118.7 26L116.9 22L116.2 18ZM317.9 -10L408 -10L409.2 -2L408.7 6L405.7 16L401.1 24L394.4 32L386.7 38L371.4 46L362 49.3L352 50.7L340 50L330 47.1L322 42.5L318 38.8L316 35.9L314 31.3L311.5 20L311.1 12L311.4 6L312 1.9L313.4 -2ZM427.1 30L432 28.6L436 28.9L440 30.5L444 33.7L447.4 38L449.6 42L451.7 48L452.9 54L453.2 62L452.6 68L451.1 74L448.6 80L446 84.1L442 88.1L438 90.4L434 91.4L430 91.1L426 89.5L422 86.3L420 84.1L416 76.8L414 66L413.8 52L415.6 44L420 35.9L423.9 32ZM64 44L74 42.5L84 43.6L92 46.3L100 51.4L102.7 54L105.6 58L108 64L108.4 68L107.7 72L104.6 78L100.3 82L96 84.5L90 86.5L82 87.5L74 86.8L68 85.3L62 82.7L56 78.6L52 74L50 69.5L49 62L49.7 56L51.6 52L54 49.4L59 46Z"/>
<path fill="#d6604d" d="M-10 -10L36.1 -10L42.3 -2L44.3 2L45.5 6L46.1 10L45.9 14L44.9 18L43 22L40 26.1L34 31.1L28.1 34L21.1 36L14 36.9L6 36.8L-2 35.2L-10 32.5ZM120.8 -10L177 -10L179.6 -4L181.5 2L182.4 12L180.7 22L178.1 28L175.5 32L171.8 36L166 40.4L162 42.4L158 43.2L150 43.4L144 42.3L138 39.9L132 36L127.8 32L124 27L121.2 22L119.1 16L118.6 10L119.9 -6ZM323.9 -10L401.9 -10L403.7 0L402.8 8L400.1 16L395.2 24L388 31.6L379.2 38L370 42.4L360 45.2L350 46L340 44.9L331.7 42L324 36.9L321.1 34L318.3 30L315.7 24L314.4 16L315.2 8L317.9 0ZM429.3 40L434 39.2L438 40.6L440 42.2L444 48L446.2 56L446.2 64L444 72L440 77.8L438 79.4L434 80.8L430 80.3L428 79.4L424.4 76L421.2 70L419.8 64L419.8 56L421.2 50L424.4 44L426.2 42ZM161.2 48L164 46.3L166 46.4L168.8 48L171.1 52L171.6 56L170.4 60L168 62.8L166 63.7L164 63.7L162 62.8L160 60.7L158.9 58L158.6 54L158.9 52ZM69.9 50L76 49.4L82 50.1L88 52.1L93.8 56L97.1 60L99 66L98.6 70L96 74.5L94 76.4L90 78.7L86 80L80 80.6L74 79.9L70 78.7L66 76.8L62.2 74L60 71.6L57.9 68L57 64L57.4 60L59.5 56L61.5 54L66 51.3Z"/>
<path fill="#b2182b" d="M-10 -10L30 -10L37.2 -2L39.4 2L40.8 6L41.3 10L41 14L39.8 18L38 21.2L34 25.8L30 28.7L24 31.4L18 32.9L12 33.5L4 32.9L-2 31.4L-10 28.3ZM125.3 -10L172.3 -10L176.8 0L177.8 4L178.4 10L177.9 16L176.9 20L174.3 26L171.5 30L168 33.4L164 36.1L160 37.8L154 39L148 38.7L144 37.8L138 35.1L133.7 32L129.7 28L126 22.6L123.9 18L122.2 12L121.7 6L122 0.8L123.1 -4ZM328.9 -8L330.2 -10L395.6 -10L397.5 -4L398 0L397.4 8L394.4 16L390 22.8L384 29L376 34.6L368 38.3L360 40.5L350 41.3L342 40.2L335.6 38L329.2 34L324 28.3L321 22L319.9 14L321.2 6L324.7 -2ZM70 58L74 56.5L78 56.3L82 57.2L86 59.3L88.5 62L89.4 64L89.4 68L88.3 70L86 72L84 72.9L80 73.7L74 72.8L70 70.7L67.5 68L66.3 64L66.6 62L67.7 60Z"/>
<path fill="#67001f" d="M-10 -10L22.9 -10L30.2 -4L33.4 0L35.4 4L36.4 8L36.4 12L35.4 16L33.3 20L30 23.5L26 26.2L20 28.6L14 29.7L8 29.7L2 28.8L-4 26.8L-10 23.9ZM129.5 -8L130.4 -10L167.2 -10L170.8 -4L172.6 0L173.7 4L174.3 10L173.7 16L172.5 20L170.5 24L168 27.3L164 30.8L160 33L156 34.2L152 34.6L148 34.3L144 33.2L140 31.4L135.4 28L132 24.4L129.2 20L127.4 16L126 10L125.7 4L126.3 0ZM335.4 -8L336.9 -10L389 -10L391.5 -4L392.3 0L392.4 4L391.3 10L388.7 16L384.5 22L378 27.9L372 31.7L364 34.8L356 36.4L348 36.2L342 34.9L336 32.1L331.1 28L327.2 22L325.7 16L325.8 10L327.4 4L330.5 -2Z"/>
<path fill="#d1e5f0" d="M49.9 -10L116.2 -10L115.8 4L114.2 14L112 21.1L109.9 24L104 28.1L98 30.8L92 32.4L86 33L78 32.3L72 31L66 28.6L59.3 24L56 19.7L54 14.7L51.7 6L50 -4ZM227.6 -8L228.7 -10L306.6 -10L307.8 -4L307.7 10L308.9 24L311 34L314.5 46L314.5 48L313.2 52L313.4 54L322 59.6L324 62L324.7 64L324 67.9L322.5 70L320 72.2L314.1 76L316 77.1L334 77.1L348 78.2L350 76L355.9 62L358.7 58L361.2 56L375.4 48L392 40L398 37.8L402 38.2L404.9 40L406.5 42L408 46.9L409.7 60L410.3 70L410.2 82L409.2 88L408 91.5L402 99.3L394 106.5L386 111.1L380 113.1L376 113.8L368 113.5L358 109.8L356 109.7L346 111.8L338 112.7L328 113L320 112.5L306 110.2L294.5 106L290 103.1L286.9 100L285.8 98L285.2 94L286.9 90L288.7 88L301 80L282 80L272 79.2L262 77.2L253.2 74L247.5 70L244.3 64L232 50.7L226 41.8L222 32.8L220.1 26L219.3 16L219.8 10L221.4 4L223.9 -2ZM439.5 -10L486 -10L486 29.6L476 31.8L466 31.5L458 29.3L450 23.6L446 19.1L444 16L440 6L438.8 -2ZM36 38L44 36.9L46.7 38L47.2 40L46.9 42L45.1 50L44.4 56L44.6 66L47.4 78L50.3 86L52 89L58 91.1L74 94.5L82 95.4L100.7 96L104 98L105.7 100L106.3 102L105.5 104L103.1 106L100 107.3L90 109.9L72 112.1L48 113.3L45.9 114L43.7 116L-10 116L-10 78.2L-4 75.9L-2.3 74L-1.3 58L1 48L2.2 46L8.7 44Z"/>
<path fill="#92c5de" d="M53 -10L114.9 -10L115.3 -2L114.8 4L114 9.8L112 16.5L110 20L106 23.5L100 26.9L94 29L88 30L82 29.9L76 29L70 26.9L62 22L58.1 18L56 14.7L53.7 8L52 -1.9L52.1 -6ZM242.9 -8L244.8 -10L290.6 -10L298 -3.4L302 1.2L304 4.5L306 15.3L308 34L307.3 38L305.4 42L302.8 46L299.3 50L294 54.2L286 58.1L278 60L270 60.3L262 59L254 56L248 52.5L242 47.4L237.4 42L233 34L230.7 26L230.1 18L231.3 10L233.5 4L237.2 -2ZM445.1 -10L486 -10L486 23.4L476 26.1L468 26.1L460 24L453.2 20L447.6 14L444 6.1L443.3 -2ZM20.7 44L28 42.8L32 43.2L34 44.4L37.2 48L39.4 52L40.5 56L42 68.8L42 76L40.3 82L38 86.8L34 91.6L27.3 96L26.3 100L24.9 102L20 104.7L16 105.4L12 105.2L8 104L5.1 102L3.7 100L3.3 98L3.7 96L6 93.3L8.1 92L14 89.9L14.3 88L11 80L9.7 74L9.2 68L9.7 62L11 56L14 49.2L16.7 46ZM388.2 46L394 46.2L398 47.5L402 50.1L405 54L406 56.2L407.5 66L407.4 72L406 78.8L403.7 84L399.9 90L396 94.5L390 99.4L385.3 102L380 103.7L374 104.1L370 103.3L367 102L364 99.9L360.9 96L359 92L358 88L357.7 82L359.7 72L362 66.6L364.7 62L367.7 58L371.7 54L377.6 50L381.6 48Z"/>
<path fill="#4393c3" d="M55.9 -8L56.4 -10L113.2 -10L114 -5.5L114 2L112 11.7L110 15.4L106 19.7L102 22.6L96 25.4L92 26.5L86 27.2L80 26.8L74 25.4L68 22.6L64.4 20L60.4 16L57.7 12L56 8.1L54.7 2L54.9 -4ZM451.7 -10L486 -10L486 16.8L478 20L472 20.7L464 19.4L457.6 16L454 12.6L452.1 10L449.7 4L449.4 -2ZM258.1 -4L262 -5.1L268 -5.7L274 -5.1L278.2 -4L284 -1.3L288 1.6L292 5.6L295.1 10L297 14L298.6 20L298.8 26L298.1 30L296.8 34L294 38.9L290 43.3L286 46.1L281.9 48L276 49.5L270 49.7L264 48.7L258 46.4L254 44L249.4 40L244.9 34L243 30L241.4 24L241.2 18L242.4 12L245.3 6L248.6 2L253.8 -2ZM384.7 56L388 55.6L392 56.3L395 58L397 60L398.2 62L399.5 66L399.8 70L399.3 74L396.2 82L393.5 86L390 89.5L384 93.2L380 94.3L376 94.2L371 92L367.8 88L366.2 82L366.7 76L369.8 68L374 62.4L379.6 58ZM24 60L26 59.4L28 60L30 62.1L31.3 66L31.3 70L30 73.9L28 76L26 76.6L24 76L22.1 74L20.7 70L21.2 64L22.1 62Z"/>
<path fill="#2166ac" d="M59.9 -10L110.1 -10L112 -2L112 2L110.6 8L108.7 12L105.5 16L100.4 20L96 22.2L92 23.5L86 24.3L80 23.9L74 22.2L69.6 20L64.5 16L61.3 12L59.3 8L58.1 4L57.8 0L58.1 -4ZM457.9 -8L459 -10L485.4 -10L486 -9.3L486 8.8L480 13.2L474 15L468 14.7L462 12L458 8L455.6 2L456.1 -4ZM262.7 6L266 5.1L270 4.9L276 6.3L281.8 10L285.1 14L287.5 20L287.5 26L285.1 32L283.5 34L280 36.7L274 38.9L270 39.1L266 38.3L260 35.4L254.9 30L252.5 24L252.2 20L253 16L254.9 12L256.5 10L260 7.3ZM382.8 66L386 65.5L388 66.1L390 67.8L391 70L391.2 74L389.8 78L386.6 82L384 83.8L380 84.5L378 83.9L375.9 82L375 80L374.8 76L376 72.4L377.5 70L380 67.5Z"/>
<path fill="#053061" d="M63.4 -10L106.6 -10L108.9 -2L108.9 2L108 6L106.2 10L103.1 14L100 16.7L96 19L92 20.5L86 21.4L80 20.9L76 19.8L72 18L68 15.1L65.1 12L62.8 8L61.4 4L61 0L61.4 -4ZM466.4 -8L470 -9.9L474 -9.9L476 -9.1L480 -6L482.1 -2L482.1 2L480 6L478 7.7L474 9.3L470 9.3L466.5 8L464 6L461.9 2L461.9 -2L464 -6Z"/>
<use href="#coast"/>
<path class="er" d="M63.6 -10L65 16L64.8 26L64 32.6L62 37.1L60 39.9L54 45.7L48 48.9L42 49.9L36 48.9L30 45.7L24 39.9L19 32L15.1 22L12.9 12L12 2L12.5 -10M174 -10L180 -3.7L184.4 2L188 8.3L191.2 16L193.3 24L194.7 34L194.8 42L194 52L192 61.2L189.7 68L186 75.5L181.5 82L176 87.6L170 91.6L164 94L158 94.9L152 94.4L146 92.6L140 89.1L136 85.8L131 80L127.2 74L123.6 66L121.3 58L120.6 48L121.7 32L124 16.7L126 9.4L128 4.7L131 0L140 -10M368.2 -10L366.7 0L364.9 6L362.4 12L357.7 20L346 38L338 49.1L334 53.4L328 58.7L318 65.3L310 68.2L306 68.6L302.9 68L300 66.4L298 64.1L297 62L296 58L296.1 50L297.3 44L299 38L304.1 26L310.9 14L318 4L329.7 -10M426.8 36L432 35.1L436 35.6L440 37.2L444 40L447.6 44L450 48L452.4 54L453.6 60L453.9 66L453.3 72L451.8 78L448.9 84L446 88L442 91.6L438 93.7L434 94.8L430 94.8L426 93.7L422 91.6L418 88L415.1 84L413 80L411.6 76L410.4 70L410.1 64L410.7 58L412 52.7L414 48L416.4 44L420 40L424 37.2L426.8 36M60.1 -10L60.7 6L60 12L58 18.4L55 24L51.7 28L48 30.8L46 31.6L42 32.3L38 31.6L36 30.8L32.3 28L29 24L26 18.4L23.9 12L22.9 6L22.6 -2L23.3 -10M155.6 -2L160 -1.8L166 0L172 4L176 8.1L180 14.2L183.3 22L185.3 30L186.1 38L185.8 46L184.4 54L181.8 62L178 69.1L174 74.1L168 78.9L164 80.8L158 82L152 81.4L148 80L142 76L138 71.9L134 65.8L130.7 58L128.7 50L127.9 42L128.2 34L129.6 26L132 18.5L135.3 12L139.9 6L144 2.4L150 -0.8L155.6 -2M49 -10L50.8 -2L50.8 2L50.1 6L48.5 10L47 12L44 14.3L42 14.6L40 14.3L37 12L35.5 10L33.9 6L33.2 2L33.2 -2L35 -10M151.4 12L156 10.8L160 11.1L164 12.6L168 15.5L171.7 20L173.9 24L176 30L177 36L177.2 42L176.4 48L174.7 54L172.9 58L170 62.4L166 66.1L162 68.3L158 69.2L154 68.9L150 67.4L146 64.5L144 62.4L141.1 58L139.3 54L138 50L137 44L137.2 34L138.6 28L140.1 24L142.3 20L145.5 16L148 13.9L151.4 12M155.3 24L158 23.8L160 24.3L164 27.3L166.8 32L168.2 38L168 44L165.9 50L164 52.7L162 54.6L158 56.2L154 55.7L150 52.7L147.2 48L145.8 42L146 36L148 30.2L151.3 26L155.3 24"/><path class="er dash" d="M67.4 -10L70 22.4L72 34.5L74 39.6L80 49.1L86 55.6L92 59.6L98 61.1L102 60.6L104 59.9L108 57.1L112 51.8L114 45.8L116 34.6L118.4 12L118.4 2L116.7 -10M248 6L242 6.9L236 9L230 12.4L223.4 18L218.4 24L214.8 30L211.5 38L209.6 46L209 54L209.8 62L212.1 70L215.2 76L220 81.8L224 85.1L230 88.2L236 89.8L244 89.8L252 87.8L260 83.6L266 78.6L270 73.9L274 67.2L278 56.9L280 47.3L280.4 38L279.7 32L277 24L273.4 18L268 12.4L262 8.6L256 6.6L248 6M486 9.1L482 6.8L480 6.4L478 6.8L476 8L473.3 12L472.1 18L473.3 24L476 28L478 29.2L480 29.6L482 29.2L486 26.9M368 33.5L364 36.3L362 38.4L358 43.9L356 47.6L354 52.6L352.6 58L352.1 62L352.2 68L353.1 74L354.8 80L357.6 86L360 89.4L362.5 92L366 94.4L370 95.7L374 95.7L378 94.4L382 91.6L385.1 88L387.5 84L389.9 78L391.3 72L391.9 66L391.8 60L390.9 54L389.2 48L386.4 42L383.5 38L380 34.8L376 32.8L372 32.3L368 33.5M70.4 -10L72.6 10L74.6 18L77.9 26L82 32.9L86 37.7L88.7 40L92 41.9L96 42.7L100 41.7L104 38.4L107.5 32L109.3 26L110.5 18L110.7 10L110.1 2L108.1 -10M242 28L236 31.4L233.4 34L230.5 38L228 44L227.2 48L227.1 52L228.3 58L230 61.6L232 64.3L234 66.1L238 68.2L244 68.9L248 68L252 66L254.7 64L258 60.3L260.5 56L262 52L262.8 48L262.9 44L262.3 40L260.9 36L258.2 32L256 29.9L254 28.7L250 27.3L246 27.1L242 28M78.3 -10L78.3 -4L79 2L80.5 8L82.8 14L85 18L88 21.6L92 23.9L94 24.1L96 23.4L98 21.6L99 20L100.6 16L101.4 12L101.5 2L99.2 -10"/>
</g>
<path d="M78 199V194.5M78 303.8V308.3M236.3 199V194.5M236.3 303.8V308.3M394.7 199V194.5M394.7 303.8V308.3M553 199V194.5M553 303.8V308.3M78 199H73M553 199H558M78 225.2H73M553 225.2H558M78 251.4H73M553 251.4H558M78 277.6H73M553 277.6H558M78 303.8H73M553 303.8H558" stroke="#000" stroke-width="2.2" fill="none"/><path d="M104.4 199V196.4M104.4 303.8V306.4M130.8 199V196.4M130.8 303.8V306.4M157.2 199V196.4M157.2 303.8V306.4M183.6 199V196.4M183.6 303.8V306.4M209.9 199V196.4M209.9 303.8V306.4M262.7 199V196.4M262.7 303.8V306.4M289.1 199V196.4M289.1 303.8V306.4M315.5 199V196.4M315.5 303.8V306.4M341.9 199V196.4M341.9 303.8V306.4M368.3 199V196.4M368.3 303.8V306.4M421.1 199V196.4M421.1 303.8V306.4M447.4 199V196.4M447.4 303.8V306.4M473.8 199V196.4M473.8 303.8V306.4M500.2 199V196.4M500.2 303.8V306.4M526.6 199V196.4M526.6 303.8V306.4M78 204.2H75.2M553 204.2H555.8M78 209.5H75.2M553 209.5H555.8M78 214.7H75.2M553 214.7H555.8M78 220H75.2M553 220H555.8M78 230.4H75.2M553 230.4H555.8M78 235.7H75.2M553 235.7H555.8M78 240.9H75.2M553 240.9H555.8M78 246.2H75.2M553 246.2H555.8M78 256.6H75.2M553 256.6H555.8M78 261.9H75.2M553 261.9H555.8M78 267.1H75.2M553 267.1H555.8M78 272.4H75.2M553 272.4H555.8M78 282.8H75.2M553 282.8H555.8M78 288.1H75.2M553 288.1H555.8M78 293.3H75.2M553 293.3H555.8M78 298.6H75.2M553 298.6H555.8" stroke="#000" stroke-width="1.2" fill="none"/><rect x="78" y="199" width="475" height="104.8" fill="none" stroke="#000" stroke-width="2.4"/>
<text class="t26" transform="translate(76 192.8) scale(1.012 1.04)">14-Feb to 16-Feb</text>
<text class="t26" transform="translate(57.3 208.7) scale(1 1.04)" text-anchor="end">40N</text>
<text class="t26" transform="translate(57.3 234.9) scale(1 1.04)" text-anchor="end">30N</text>
<text class="t26" transform="translate(57.3 261.1) scale(1 1.04)" text-anchor="end">20N</text>
<text class="t26" transform="translate(57.3 287.3) scale(1 1.04)" text-anchor="end">10N</text>
<text class="t26" transform="translate(57.3 313.5) scale(1 1.04)" text-anchor="end">0</text>
<g transform="translate(78 367)" clip-path="url(#c02)">
<rect width="475" height="104.8" fill="#f8f8f8"/>
<path fill="#fddbc7" d="M2.9 -10L61 -10L62.8 2L63.3 10L58.8 28L55.6 46L54 50L49.6 56L44 61.4L40 64L36 65.4L32 66L28 65.5L23.6 64L20 61.7L13.8 56L10.7 52L7.4 46L3.1 34L1 22L0.9 4ZM170.4 -8L175.8 -10L208.7 -10L212.8 -6L213.6 -4L213.6 0L211.5 4L207.8 8L204 11L198 14.5L192 17.2L182 20.3L172 22.2L170 23.6L169.7 36L167.4 44L163.4 52L154.2 66L156 67L170 68.5L178 70.4L182 72.6L186 75.8L196.2 86L200 87.6L217.4 92L226 96L228.3 98L229.5 100L229.8 102L228.5 106L226 108.8L222 111.4L212 115.6L210.6 116L179.4 116L170 112.4L166 110.3L163.1 108L160 104L158 102.9L144 102.9L134 102L124 100.3L115.6 98L110 95.7L104.1 92L102.3 90L100.1 86L87.3 76L85.7 74L83.8 70L82.7 66L82.9 62L87.1 46L88.5 38L90 33.8L92.5 30L95.1 28L99.7 26L110 22.9L126 16.4L142 7.4L148 5.5L156 -1L160 -3.5ZM337 -8L338.2 -10L451.8 -10L455.8 -4L458 0.5L459.7 8L459.6 14L458.6 18L455.8 24L453 28L449.2 32L440 38.9L424 47L414 48.9L402 49.2L366 45.9L362 45L356 42.6L346 36.6L338.7 30L333 22L331.4 18L330.5 14L331.4 4L333.1 -2ZM304.5 42L308 40.4L312 40L324 40.7L334 42.2L342 44.2L350 47.3L354.4 50L354.4 52L334 72.7L332 74L328 74.8L318 75.8L308 76L298 75.5L288 74.1L280 71.6L270.2 64L269.9 62L272.9 60ZM449.3 50L452 48.6L456 48.2L460 49.5L462 51.1L464 54L464.9 58L464 62L462.8 64L460 66.5L456 67.8L448 66.9L447.5 68L447.8 78L446.6 84L445 88L442.6 92L438 96.6L434 98.8L428 99.9L422 98.8L418 96.6L413.4 92L412.4 90L412.2 88L414.5 72L414 58.3L415.2 56L418 53.4L422 51.2L428 50.1L432 50.6L435.6 52L438.7 54L442 57.1L444 57.7L447.1 52Z"/>
<path fill="#f4a582" d="M5.7 -10L58.3 -10L60.3 2L60.7 14L54.4 44L52 49.2L48 54.7L44 58.7L39.1 62L32 63.6L28 63.1L24 61.7L20 58.9L16 55L12.4 50L10 45.5L5.9 34L3.5 20L3.5 4ZM180.6 -8L186 -9.2L192 -9.7L200 -8.5L205.4 -6L207.3 -4L208 -2L207.4 2L206.2 4L202.3 8L198 11L192 14L180 17.8L163.9 20L163.6 22L165.3 28L165.6 32L165.2 36L163.8 42L161.2 48L157.6 54L152.7 60L148 64.6L140 70.8L132 75.3L124 78.3L116 80L108 80.4L100 79L94 76.3L90 73L87.7 70L85.9 66L85.2 62L85.6 58L90 40.2L92.4 36L97.3 30L100 27.8L122 19.1L140 10.5L144 9.8L150 10.5L152 9.1L155.5 4L162 -1L170 -4.9ZM349.7 -10L440.3 -10L445.3 -4L448.6 2L450.1 8L450.1 12L449.3 16L447.7 20L445.3 24L441.8 28L438 31.3L428 37.2L416 41.4L404 43.5L390 43.8L380 42.7L362 38.9L356 36.8L349.1 32L344.4 26L341 18L339.8 10L340.7 4L343.4 -2ZM312.4 50L320 49.1L328 50.1L332 51.8L334.4 54L335 56L334.4 58L332.3 60L330 61.2L324 62.8L316 62.8L310 61.3L306 58.6L304.9 56L305.6 54L307.7 52ZM184.9 96L194 94.5L202 95.2L206 96.3L209.4 98L211.5 100L212.1 102L211.5 104L209.4 106L204 108.3L196 109.5L188 108.8L184 107.7L180.6 106L178.5 104L177.9 102L178.5 100L180.6 98Z"/>
<path fill="#d6604d" d="M7.8 -8L8.1 -10L55.9 -10L58.1 2L58.6 12L58 21.2L56 31.6L53.5 40L49.6 48L44 54.9L38 58.8L34 59.9L30 59.9L24 57.9L20 54.9L17.2 52L14 47.4L11.2 42L7.3 30L5.6 18L5.7 4ZM184.4 -6L194 -6L199.9 -4L201.8 -2L202.4 0L201 4L197 8L192 11.1L186 13.6L178 15.6L172 16.3L165.9 16L160.1 14L158.2 12L157.6 10L157.9 8L160.6 4L163 2L172 -2.9L178 -4.8ZM363.9 -6L370 -6.5L376 -5.2L380 -3.3L384 -0.4L386.2 2L388.9 6L390.3 10L391 14L390.8 18L388.9 24L384 30.4L380 33.3L376 35L370 35.8L366 35.8L358 33.7L354 31.3L350.5 28L347.8 24L346.3 20L345.6 16L346 10.9L347.6 6L350 2.1L352 -0.2L356 -3.2L360 -5.2ZM136.6 14L142 13.7L150 15.8L156 20L158.9 24L160.8 30L160.6 38L158 46L154.6 52L148 60L142 65.2L134 70.4L126 73.9L118 75.9L110 76.4L102 75L96.3 72L94 70L91.1 66L89.6 62L89 58L89.2 54L90.5 48L92 44L95.4 38L102 30L107.6 26Z"/>
<path fill="#b2182b" d="M10.6 -10L53.4 -10L55.6 0L56.4 10L56.1 20L54.3 30L51.8 38L48 45.4L44 50.5L38 54.8L34 56L30 56L24 53.7L17.8 48L15.2 44L12.2 38L8.8 26L7.6 14L8.2 2ZM177.7 -2L186 -3.3L192 -2.8L194.2 -2L196 -0.4L196.6 2L195.8 4L194.1 6L191.5 8L187.8 10L182 12.1L176 13.1L170 13.2L166 12.1L164 10.4L163.4 8L164.2 6L165.9 4L172 0.1ZM131.7 18L138 17.5L144 18.4L150 21.3L154 25.6L155.9 30L156.5 36L155.4 42L152.8 48L148.8 54L143.1 60L136 65.4L130 68.6L122 71.4L114 72.5L108 72L102 69.9L99.1 68L96 64.4L93.7 58L93.5 54L94.1 50L97.2 42L102.9 34L109.3 28L112.2 26L120.4 22Z"/>
<path fill="#67001f" d="M13.1 -10L50.9 -10L53.3 0L54.3 10L53.9 20L52.5 28L49.9 36L46 43.3L41.9 48L36 51.6L30 52.1L24 49.5L20.1 46L18 43.3L13.3 34L10.7 24L9.7 12L10.4 2ZM129.3 22L136 21.4L142 22.5L146 24.4L149.6 28L151.4 32L151.9 38L151.1 42L148.6 48L144.3 54L140 58.3L134 62.7L128 65.8L122 67.7L116 68.6L110 68.1L106 66.7L102.1 64L100.4 62L98.2 56L98.4 50L101.4 42L107.5 34L114 28.6L122 24.2Z"/>
<path fill="#d1e5f0" d="M65.2 -10L144.8 -10L145 -2L144.2 2L143.1 4L141.1 6L132.6 12L125.2 16L114 20.7L102 24.4L94 25.7L88 24.8L87.1 26L87.6 34L86.4 44L84 54L80.2 66L81 74L84.3 82L83.9 92L82 97.4L79.3 102L75.9 106L71.4 110L62.2 116L-10 116L-10 59.9L-4 56.7L0 55.4L4 54.8L8 55L24 66.6L28 67.9L32 68.2L38 67.3L42 65.6L48 60.7L52.7 56L56 51.4L57.1 46L57.7 38L59.7 28L62 20L64 15.1L68.2 10L68.1 8L65.5 0L64.9 -6ZM277 -8L284.3 -10L316.8 -10L324 -5.2L326 -2.7L327.1 0L327.5 6L324.8 16L321.2 22L316.2 28L309.8 34L302 40L286 50.2L263.5 62L261.6 64L261.4 66L266.5 72L268.1 76L267.4 78L265.7 80L260 83.8L254 86.3L246 88.5L238 89.6L230 89.9L211.7 86L206.5 84L203.7 82L195.7 74L194.1 72L192.3 68L192.7 66L195.3 62L195.7 54L197.3 48L199.1 44L204.3 36L211.5 28L218 22.2L224 17.4L236 9.5L244 4.9L256 -0.8L266 -4.7ZM473.4 -8L476 -9.1L480 -9.1L486 -6.3L486 12.3L480 14.7L476 14.7L472 13.3L468 9.4L466.2 4L466.5 0L468.4 -4L470.2 -6ZM364.4 52L368 50.6L372 50.1L388 50.5L396.8 52L402 53.4L403.6 54L406 55.9L408 58.7L410.1 64L410.9 70L410.6 76L410 79.6L408 85.5L406 89.2L402 94.1L396 98.9L384 106.2L374 109.5L364 111.2L348 112L334 111L320.5 108L315.7 106L312.6 104L310.9 102L310.4 100L310.9 98L312.6 96L315.7 94L320.5 92L334 88.9L335.4 88L336.4 80L338 76L342 70L352 59.9L358 55.5Z"/>
<path fill="#92c5de" d="M68.4 -10L141.6 -10L141.9 -6L140.9 2L138.6 6L134 10L123.6 16L113.9 20L107.5 22L100 23.4L94 23.2L83.7 20L82.9 22L85.2 30L85.8 36L85.2 44L83.4 52L80.5 60L78 64L76 65.5L72 66.6L68 65.7L63.5 62L60.4 56L58.6 48L58.8 38L60.7 28L63.5 20L66 16.1L68 14.6L73.6 12L69.8 4L68.6 0L68.1 -4ZM288.9 -8L300 -9.1L306 -8.6L312 -7.1L318.4 -4L320.6 -2L322.9 2L323.5 6L323.1 10L319.9 18L312.4 28L301.5 38L290 46L272 55.9L256 62.9L244 66.6L232 69L220 68.9L210 66.5L206 64.3L203.4 62L201.1 58L200.5 54L200.9 50L203.1 44L205.3 40L209.8 34L215.5 28L222.3 22L238 11.1L254 2.8L272 -4ZM367.8 58L378 56.1L386 56.5L394 59.2L398 61.9L400 63.9L401.5 66L403 70L403.2 76L400.9 82L396.1 88L390.9 92L386 94.6L380 96.6L372 97.9L366 97.7L360 96.5L354.5 94L350 90.1L347.6 86L346.6 82L347.3 76L349.1 72L351.9 68L356.2 64L362 60.4ZM-0.7 64L6 63.1L10 63.8L14 65.4L20 70.1L23.1 74L25.3 78L27 82L28.5 88L29 96L27.5 106L23.4 116L-10 116L-10 69.5L-4 65.4Z"/>
<path fill="#4393c3" d="M71.5 -10L138.5 -10L138.7 -2L137.8 2L135.9 6L132 10L125.7 14L116.9 18L111.1 20L102 21.8L98 21.5L92 20.1L86 17.5L80.6 14L76.7 10L74 6L71.6 0L71.1 -4ZM289.6 -6L294 -6.5L300 -6.3L310 -3.9L313.8 -2L316.1 0L318 2.8L319 6L319 10L318 14L313.7 22L307 30L298.1 38L286.6 46L272 54L258 59.8L246 63.4L234 65.5L222 65.7L214 63.9L210.2 62L207.9 60L205.5 56L204.9 52L205.4 48L206.8 44L209 40L213.3 34L219 28L225.9 22L240.6 12L256.3 4L272 -1.8ZM68.4 18L72 16.9L74 17.2L78 19.8L80 22.4L82 26.4L84.1 36L84 44L82.2 52L80 57.3L78 60.1L76 61.8L72 63.1L68 61.8L64 57.6L61.4 52L59.9 44L59.9 38L62 27.5L64.4 22L66 19.9ZM368.5 66L374 64.4L378 64L384 64.9L388 66.8L391.2 70L392.5 74L392 78L389.7 82L384 86.8L380 88.6L376 89.6L372 90L368 89.6L362 87.2L360 85.5L357.9 82L357.5 80L358 76L360 72.4L362.1 70ZM0.1 72L6 71.1L12 73L15.9 76L18 78.5L21.6 86L22.9 94L22.2 102L19 110L14.3 116L-4.3 116L-10 109.3L-10 80.7L-4 74.3Z"/>
<path fill="#2166ac" d="M74.5 -10L135.5 -10L135.7 -2L134.7 2L132.7 6L129.2 10L126.6 12L119.1 16L113.8 18L106 19.6L100 19.4L94 18.1L88.6 16L84 13.2L80 9.6L77.3 6L74.7 0L74.1 -4ZM288.7 -4L298 -4.4L302 -3.5L305.8 -2L311.6 2L313.2 4L314.6 8L314 14L310.1 22L303.4 30L294.3 38L282.4 46L271.1 52L261.9 56L249.7 60L238 62.4L226 62.9L218 61.3L215 60L212 57.6L209.9 54L209.3 50L210 46L211.6 42L214 37.9L218.7 32L229.7 22L241.6 14L257.3 6L267.7 2ZM67.8 22L70 20.7L72 20.4L74 20.7L76.2 22L78 23.8L80 27.2L81.6 32L82.3 36L82.3 44L80 52.7L78 56.2L76 58.2L74 59.3L72 59.6L70 59.3L68 58.2L65.9 56L62.9 50L61.7 44L61.5 38L63 30L64.7 26Z"/>
<path fill="#053061" d="M77.6 -10L132.4 -10L132.9 -6L132.7 -2L131.5 2L129.3 6L126 9.7L123 12L119.4 14L112 16.5L106 17.3L100 17L94 15.6L90 13.9L86 11.4L82 7.7L79.4 4L77.8 0L77.1 -4ZM287.6 -2L292 -2.6L298 -2.3L302 -1L306.3 2L308.8 6L309.2 8L308.9 12L307.4 16L304.6 20L300 24.7L294 28.9L288 31.6L282 33.3L276 33.7L270 32.9L266 31L262.8 28L260.8 24L260.6 20L262.6 14L267.1 8L272.1 4L280 0.3ZM70.9 24L74 24.2L76 25.6L78 28.2L80.1 34L80.8 40L80.1 46L78 51.8L76 54.4L74 55.8L72 56.2L70 55.8L68 54.4L66 51.8L63.9 46L63.2 40L63.9 34L66 28.2L68 25.6ZM224.6 38L228 37.2L234 38.8L237.5 42L238.8 44L239.6 48L238.8 52L237.5 54L234 57.1L228 58.6L224 57.8L220 55.6L217.2 52L216.4 48L217.2 44L220 40.4L222 38.8Z"/>
<use href="#coast"/>
<path class="er" d="M54 -10L56 0.2L56.8 10L55.7 20L54 27.5L52 33.5L48 41.2L45.7 44L42 47.5L36 50.8L30 51.9L26 51.4L22 50L16.2 46L11.2 40L7.1 32L4.2 22L3.1 12L3.5 2L6 -10M213.3 -10L212.7 -6L211.7 -4L208.4 0L203.4 4L196.4 8L188 11.6L180 13.9L172 15L164 15.2L161.6 16L168 25.2L170.6 30L172.6 36L173.5 44L172.5 54L170 62.4L166.7 68L162 73L158 76.1L152 79.2L146 81L140 81.7L134 81.4L128 80L123 78L118 75.1L112.1 70L108.8 66L106 61.4L103.7 56L102.3 50L101.8 44L102.3 38L104.2 34L108.6 30L117.7 24L128.5 18L136.8 14L142 11.9L148 10.6L156 11.9L157.4 6L159.7 2L164 -2.1L175.7 -10M411.1 22L414 21.2L418 21.6L422 23.7L426 27.6L428.7 32L431.2 38L432.8 44L433.8 52L433.8 60L433.2 66L431.8 72L429.7 78L427.6 82L424 86.6L420 89.6L416 90.8L412 90.4L408 88.3L405.4 86L402.4 82L400 77.3L398.2 72L396.8 66L396.2 60L396.5 48L397.6 42L399.5 36L402 30.7L404 27.6L408 23.7L411.1 22M302.6 38L308 37.9L310 38.5L312.4 40L313.9 42L314.5 44L314.6 46L313.4 50L310 54.5L304 58.6L298 60.2L294 60.1L292 59.5L289.6 58L288.1 56L287.5 54L287.4 52L288.6 48L291.4 44L294 41.8L298 39.4L302.6 38M46.6 -10L49.6 0L50.6 8L50.3 16L48.6 24L45 32L40 38L36 40.7L34 41.4L30 42L26 41.4L24 40.7L20 38L15 32L11.4 24L9.7 16L9.4 8L10.4 0L13.4 -10M184.2 -6L190 -7.3L194 -7.3L197.5 -6L198.5 -4L197.9 -2L196.4 0L192 3.2L188 5.2L182 6.9L178 7.3L174 6.7L172.6 6L171.5 4L172.1 2L173.6 0L178 -3.2L184.2 -6M133.9 18L140 16.6L144 17L150 19.1L154 21.5L158 24.9L162 30L164.1 34L165.9 40L166.5 46L166 50.9L164.6 56L162 61.1L158 66L154 69.3L150 71.5L144 73.4L138 73.9L132 73.1L126 70.9L122 68.5L118 65.1L114 60L111.9 56L110.1 50L109.5 44L109.8 40L110.7 36L112.5 32L116.1 28L121.8 24L133.9 18M37.2 -10L41.1 -4L43.4 2L44.3 8L43.8 16L42 22.1L38.4 28L34 31.3L30 32.2L26 31.3L21.6 28L18 22.1L16.2 16L15.7 8L16.6 2L18.9 -4L22.8 -10M136.9 24L140 24.1L144 25L148 26.8L152 29.8L154 32L156.5 36L158 40L158.7 44L158.6 48L157.7 52L155.9 56L154 58.8L150.6 62L148 63.7L144 65.3L140 66L136 65.9L132 65L128 63.2L124 60.2L122 58L119.5 54L118 50L117.3 46L117.4 42L118.3 38L120.1 34L122 31.3L125.4 28L128.8 26L132 24.7L136.9 24M28.9 -2L32 -1.8L34 -0.6L36 1.9L37.5 6L38 10L37.5 14L36 18.1L34 20.6L32 21.8L30 22.2L28 21.8L26 20.6L24 18.1L22.5 14L22 10L22.5 6L24 1.9L26 -0.6L28.9 -2M135.8 32L138 31.8L142 32.6L146 34.8L148.8 38L150 40.3L150.9 44L150.7 48L150.1 50L148 53.6L144 56.8L140 58.1L136 58L134 57.4L130 55.2L127.2 52L126 49.7L125.1 46L125.3 42L125.9 40L128 36.4L132 33.2L135.8 32M137.5 40L140 40.4L142 42L142.9 44L142.9 46L142 48.1L140 49.7L138 50.1L136 49.6L134 48L133.1 46L133.1 44L133.9 42L136 40.3L137.5 40"/><path class="er dash" d="M66.9 -10L65.5 -4L65.3 2L66 6.2L69.6 16L68.8 18L66 21L64 24.7L62.3 32L62.2 38L63.5 44L66 49L68 51.1L70 52.3L72 52.6L74 52.3L76 51.1L78 49L80 45.4L81.8 38L81.5 28L82 26.8L84 26.3L96 29.1L98 29.2L102 28.4L111.4 24L136.4 10L142.2 6L144 4L144.7 2L144.6 -4L143.1 -10M278 -8L272 -6.8L266.6 -4L265 -2L264.5 0L265 2L266.6 4L269.9 6L274 7.3L282 7.9L286 7.3L290.1 6L293.4 4L295 2L295.5 0L295 -2L292 -5L286 -7.4L282 -8L278 -8M210 21.8L202 25.3L196 29.6L191.7 34L187.7 40L185.3 46L184.1 54L184.8 62L186.8 68L190.2 74L195.5 80L202 84.7L208 87.5L216 89.5L224 89.9L232 88.7L238 86.7L244 83.5L250 78.6L253.8 74L257.2 68L259.2 62L259.9 56L259.2 48L257.2 42L253.8 36L250 31.4L244 26.5L238 23.3L232 21.3L224 20.1L216 20.5L210 21.8M360 27.9L354 30.7L348 36L343.5 42L339.7 50L337.8 58L338 64L340 69L342 71L344 72.1L346 72.5L350 72.1L354 70.5L358 67.8L362 64L365.2 60L368 55.3L370.3 50L371.9 44L372.3 40L372 36L370.6 32L368 29L366 27.9L364 27.5L360 27.9M486 28.1L482 25.8L480 25.4L478 25.8L476 27.1L474 29.4L471.6 34L469.7 40L468.6 46L468 54L468.4 62L469.7 70L471.6 76L474 80.6L476 82.9L478 84.2L480 84.6L482 84.2L486 81.9M10.9 116L12 106L11.5 98L9.5 90L8 86.7L6 83.7L4 81.8L2 80.7L0 80.3L-2 80.7L-4 81.8L-6 83.7L-10 89M76.9 -10L74.9 -4L74.6 2L76.4 8L79 12L84 16.7L90 20L96.3 22L104 22.9L110 21.7L118.2 18L128.3 12L133 8L135.1 4L135.6 0L135.1 -4L133.1 -10M218 41.6L212.9 44L209 48L208 50L207 54L207.3 58L208 60L210.6 64L212.9 66L216 67.7L222 68.9L228 67.7L231.1 66L233.4 64L236 60L237 56L236.7 52L236 50L233.4 46L231.1 44L228 42.3L224 41.2L218 41.6M87.6 -10L85.4 -6L84 -2L84 2L86 7L88.5 10L94 13.6L98 15L104 15.9L110 15.5L115 14L120 11.2L123.3 8L125.5 4L126.2 0L125.5 -4L122.4 -10M100 -8.2L96 -5.6L93.6 -2L93.3 0L93.6 2L96 5.6L100 8L106 8.8L110 8L114 5.6L116 2.9L116.7 0L116 -2.9L114 -5.6L110 -8.2L106 -9.5L102 -9.1L100 -8.2"/>
</g>
<path d="M78 367V362.5M78 471.8V476.3M236.3 367V362.5M236.3 471.8V476.3M394.7 367V362.5M394.7 471.8V476.3M553 367V362.5M553 471.8V476.3M78 367H73M553 367H558M78 393.2H73M553 393.2H558M78 419.4H73M553 419.4H558M78 445.6H73M553 445.6H558M78 471.8H73M553 471.8H558" stroke="#000" stroke-width="2.2" fill="none"/><path d="M104.4 367V364.4M104.4 471.8V474.4M130.8 367V364.4M130.8 471.8V474.4M157.2 367V364.4M157.2 471.8V474.4M183.6 367V364.4M183.6 471.8V474.4M209.9 367V364.4M209.9 471.8V474.4M262.7 367V364.4M262.7 471.8V474.4M289.1 367V364.4M289.1 471.8V474.4M315.5 367V364.4M315.5 471.8V474.4M341.9 367V364.4M341.9 471.8V474.4M368.3 367V364.4M368.3 471.8V474.4M421.1 367V364.4M421.1 471.8V474.4M447.4 367V364.4M447.4 471.8V474.4M473.8 367V364.4M473.8 471.8V474.4M500.2 367V364.4M500.2 471.8V474.4M526.6 367V364.4M526.6 471.8V474.4M78 372.2H75.2M553 372.2H555.8M78 377.5H75.2M553 377.5H555.8M78 382.7H75.2M553 382.7H555.8M78 388H75.2M553 388H555.8M78 398.4H75.2M553 398.4H555.8M78 403.7H75.2M553 403.7H555.8M78 408.9H75.2M553 408.9H555.8M78 414.2H75.2M553 414.2H555.8M78 424.6H75.2M553 424.6H555.8M78 429.9H75.2M553 429.9H555.8M78 435.1H75.2M553 435.1H555.8M78 440.4H75.2M553 440.4H555.8M78 450.8H75.2M553 450.8H555.8M78 456.1H75.2M553 456.1H555.8M78 461.3H75.2M553 461.3H555.8M78 466.6H75.2M553 466.6H555.8" stroke="#000" stroke-width="1.2" fill="none"/><rect x="78" y="367" width="475" height="104.8" fill="none" stroke="#000" stroke-width="2.4"/>
<text class="t26" transform="translate(76 360.8) scale(1.012 1.04)">17-Feb to 19-Feb</text>
<text class="t26" transform="translate(57.3 376.7) scale(1 1.04)" text-anchor="end">40N</text>
<text class="t26" transform="translate(57.3 402.9) scale(1 1.04)" text-anchor="end">30N</text>
<text class="t26" transform="translate(57.3 429.1) scale(1 1.04)" text-anchor="end">20N</text>
<text class="t26" transform="translate(57.3 455.3) scale(1 1.04)" text-anchor="end">10N</text>
<text class="t26" transform="translate(57.3 481.5) scale(1 1.04)" text-anchor="end">0</text>
<g transform="translate(78 536)" clip-path="url(#c03)">
<rect width="475" height="104.8" fill="#f8f8f8"/>
<path fill="#fddbc7" d="M-10 -10L24.7 -10L34 -4.9L44 2L60 17.2L68.2 24L73.3 30L78 37.2L80 39.4L82 39.6L85.8 36L90 33.2L105.3 26L108.2 24L107.9 22L103.7 18L103.8 16L109.4 6L112 -1.3L114 -4.7L118 -6.7L130.5 -10L149.5 -10L154 -9L162 -6.7L168 -4.2L171.9 -2L176 1.2L178 2.1L193.5 -2L208 -4.3L226.6 -10L263.4 -10L275.5 -6L278 -4.7L280 -2.8L281.3 2L280.1 10L280.5 18L280 20L256 31.5L254 31.8L244 30.4L232 29.8L222 30.6L206 33.7L198 32.8L186 30.3L184 31.7L181 36L178 38.5L176 39.2L174 39.3L170 37.9L168 38L150 44.8L134 48.6L120 50.7L108 51.5L98 51.3L88 49.8L87.4 52L90 59.8L98 67.1L100 69.9L100.7 72L100.4 78L96 103.7L94.5 106L92.3 108L85.1 112L76 114.8L68 115.3L50 112.5L46 110.4L42.3 106L38.9 96L38.8 82L40 74.8L41.7 70L42.6 62L43.8 58L43.6 56L28 42.5L6.5 22L-0.9 14L-5 8L-10 -1.6ZM363.9 -10L440.6 -10L442.9 -2L443.9 6L443.6 14L441.8 22L439.2 26L426 36.3L419.7 42L412 50.2L379.2 78L378 80L378.5 84L377.7 86L374 90L371.2 92L364 95.3L356 96.7L344 96.8L330 95.1L328 93.4L327.4 92L326.4 86L327.5 78L330 72L337.9 62L360 43.5L365.5 38L365.8 36L364.4 12ZM220.7 66L230 65.6L242 67.7L250 71.7L254 75.5L257.5 82L258.4 86L259.7 108L259.2 112L257.4 116L198.7 116L195.7 110L194 102L194.2 94L197 84L200.9 78L208 71.2L214 67.6Z"/>
<path fill="#f4a582" d="M-6.3 -8L-5.2 -10L18.8 -10L36 -0.9L44 4.5L50 9.5L63.5 22L67.2 26L73 34L76.4 40L81.2 52L82.5 58L81.9 64L79.8 68L77.9 70L74 72.2L70 73.2L66 73.2L58 71.2L50 66.5L47.9 64L47.4 62L47.6 56L46 54L36 47.2L28 40.7L10.6 24L3.4 16L-2.1 8L-5.3 2L-6.9 -4ZM366.4 -10L431 -10L434 -2L435.1 4L435.1 12L434 18L430.7 26L426.2 32L419.5 38L410 44.3L397.1 58L382 70.3L368 79.3L356 85.1L346 87.9L342 88.3L338 87.9L334.7 86L333.5 84L333.2 82L334.4 76L337.5 70L341.7 64L347 58L355.5 50L369.9 38L371.5 36L371.1 34L368 28.9L366.5 18L365.8 2ZM232.1 -4L244 -5.4L252 -5L257.9 -4L263.9 -2L267 0L268.4 2L268.4 4L267 6L263.9 8L256 10.4L246 11.4L234 10.5L226 8L223 6L221.6 4L221.6 2L223 0L226.1 -2ZM138.5 24L150 23.7L158 24.9L162 26.5L163.6 28L164 30L163.1 32L161.1 34L154.3 38L143.2 42L130 44.9L114 46.3L98 45.5L94 44.4L91.1 42L90.6 40L91.4 38L96 35L101.4 34L110.6 30L120 27.1L128 25.4ZM172.4 24L174 22.7L176 22.7L177.5 24L178.5 26L178.5 30L177.5 32L176 33.3L174 33.3L172.4 32L171.2 30L170.8 28L171.2 26ZM222 72L226 71.5L232 71.7L240.5 74L248 78.7L251.3 82L253.9 86L256 93.9L256 102L253.9 108L248 116L208 116L202.1 108L200.4 104L199.3 98L199.8 92L202.1 86L206 80.6L210 77.1L216 73.8ZM50.3 102L52 100.9L56 100.2L59.7 102L60.5 104L59.6 106L58 107.1L54 107.7L50.4 106L49.5 104Z"/>
<path fill="#d6604d" d="M0.6 -8L4 -9.4L10 -9.5L18 -7.2L26 -4L36 1.4L44 6.8L52 13.3L59.1 20L64.6 26L69.1 32L72.7 38L75.3 44L76.6 50L76.9 58L76 62L74 64.9L70 67.2L66 67.9L60 66.8L54.2 64L51.8 62L50.9 60L50.5 56L49 54L32 42.3L18.3 30L7.1 18L2.7 12L-0.8 6L-2.5 2L-3.2 -2L-3 -4L-2 -6ZM375.2 -10L420.8 -10L424.1 -4L426.1 2L426.6 10L425.6 16L423.1 22L420 26.4L416 30.4L410 34.2L408.1 36L405.2 42L401.1 48L394 55.8L387 62L376 70.1L364 76.9L354 80.5L350 81.1L346 80.8L344 80L342.5 78L342.3 74L344.8 68L348.9 62L356 54.2L363 48L382.4 34L382 32L377.4 28L374 23.7L371.9 20L370 13.7L369.6 8L370 2L371.9 -4ZM95.5 38L98 37.4L100 37.6L101 38L102.5 40L100 42.4L96 42.3L93.9 40ZM225.5 78L230 77.9L234 78.6L238 80L241.4 82L244 84.2L247 88L249.3 94L249.5 98L248.8 102L246 107.5L241.4 112L233.9 116L222.1 116L216 112.9L212.2 110L210 107.5L208 104L206.7 100L206.5 96L207.2 92L210.4 86L214 82.5L218 80Z"/>
<path fill="#b2182b" d="M385.8 -8L388 -10L408 -10L414.1 -4L417.1 2L418 6L418 10L417.1 14L415.4 18L412.4 22L410 24.1L404 27.1L400 28L396 28L392 27.1L388 25.4L384 22.4L381.9 20L378.9 14L378 10L378 6L378.9 2L380.6 -2ZM2.7 -4L6 -5.5L12 -5.8L18 -4.6L24 -2.5L30 0.3L38 4.9L52 15.5L62.1 26L66.6 32L70.1 38L72.4 44L73.1 48L72.9 52L71.1 56L70 57.1L66 58.3L58 57.2L54 55.4L40 46.5L26.5 36L12.5 22L7.7 16L3.7 10L1.7 6L0.6 2L1 -2Z"/>
<path fill="#67001f" d="M8.4 -2L12 -2.6L16 -2.3L22 -0.8L28 1.6L40 8.5L52 18L61.2 28L67.4 38L69.7 46L69.4 50L68 52.8L66 54.2L62 54.7L54 52.6L46 48.6L40 44.8L26 33.8L14.5 22L9.8 16L6.1 10L4.5 6L4.3 2L5.2 0ZM392.6 -2L396 -3.2L400 -3.2L404 -1.7L407.7 2L409.2 6L409.2 10L407.7 14L404 17.7L400 19.2L396 19.2L392 17.7L388.3 14L386.8 10L386.8 6L388.3 2L390 -0.1Z"/>
<path fill="#d1e5f0" d="M46.2 -10L109.3 -10L109.3 -6L108.4 0L106.1 6L102.1 12L98 16L94 18.9L88 21.6L82 23L76 23.2L70 22L66 19.9L60 15.6L52.1 8L48.7 4L46.5 0L45.9 -4ZM284.3 -10L362.3 -10L363.5 30L363.4 36L362.7 38L358.8 42L349 50L340 55.8L338 56.5L334 57.3L328 57.3L322 56.5L312 53.8L309.8 54L319.1 64L321.7 68L323.4 72L323.7 76L323.2 96L322 99.9L320.6 102L317.1 106L314 108.6L306 112.8L298 114.9L292 114.9L282 112.7L272 112.8L266 111.3L264 110.1L263.1 108L262 105L260.9 98L260.9 84L258.9 76L258.8 72L260 68L264.3 60L264.9 58L260.9 50L260.1 46L260.4 42L262.4 38L267.1 34L274.5 30L284 27.2L286 25.7L286.4 22L284.2 8L284.5 2L283.8 -6ZM474.3 -6L478 -6.9L480 -6.6L482 -5.9L486 -2.9L486 12.9L482 15.9L480 16.6L476 16.6L472 14.5L470 12L468.4 8L468.1 4L469 0L471.5 -4ZM-10 18L-10 16.6L-8 17L0 19.9L6 23.9L12 28.8L29 46L33 52L35.4 58L37 66L37 70L36 74.9L31.6 84L30 94.2L28 98L26 100.1L20 103.3L12 104.9L4 104.4L-3 102L-10 97.5ZM438.9 30L444 28.3L448 28.4L454 29.7L460 32.3L465.3 36L468.9 40L471.2 44L472.8 50L472.5 56L471.2 60L468.9 64L466 67.3L462 70.6L458 72.9L452 75.2L446 76.6L440 76.8L434 75.4L428 73L424 70.6L420 67.3L417.1 64L414.8 60L413.6 56L413.8 54L415.8 50L422.3 42L432 34ZM220.6 36L232 34.3L238 34.7L244.7 36L249.4 38L252.1 40L253.4 42L253.9 44L253.5 48L251.3 52L249.5 54L246 56.5L242 58.3L238 59.4L232 59.8L226 59.2L221.2 58L217.2 56L214 53.5L211.4 50L210.2 46L210.9 42L212.5 40L215.6 38ZM179.7 46L184 45.1L188 45.4L194.3 48L198 51.3L200 54L201.8 58L202.7 62L202.9 66L201.8 70L193 82L191 90L190 98L188 104.1L180 107.6L170 110.1L160 111.5L148 112L136 111.1L126 109.3L115.8 106L112 104.1L110 102.4L108 98.9L107.4 96L107.6 88L110 80.3L112 77.2L114 75.3L122 71.8L136 68.9L148 68L164 68.8L166 68.4L166.9 66L168 58.7L170 54L174 49.3ZM405.3 82L418 80.5L432 80L444 80.5L456 82.2L466 84.7L474 88L478.7 92L479.6 94L479.6 96L478.7 98L476.9 100L474 102L464 105.9L450 108.7L434 109.9L416 109.4L400 106.9L388 103L383.1 100L381.3 98L381 96L381.9 94L386 89.6L390 86.4L396.2 84Z"/>
<path fill="#92c5de" d="M49.9 -8L50.1 -10L105.9 -10L106.2 -4L105.7 0L103.2 6L100 10.5L96.1 14L92 16.5L86 18.8L82 19.6L76 19.7L70 18.8L66 17.3L60.6 14L56.2 10L52.9 6L50.8 2L49.9 -2ZM291.9 -8L292.4 -10L360 -10L361.2 6L361.5 20L361 28L360.2 32L359.1 34L354.1 40L349 44L342 47.4L336 48.9L330 49.4L322 48.3L316 46.3L310 43.1L304 38.3L300 34L295.9 28L292.3 20L290.7 14L289.8 6L290.4 -2ZM475.8 0L478 -0.7L480 -0.2L482.1 2L482.7 6L482 8.1L480 10.2L478 10.7L476 10.2L473.9 8L473.3 4L474 1.9ZM-10 22L-10 20.7L-4 22L2 24.5L8 28.1L17.2 36L25.9 46L31.3 56L33.2 62L33.7 66L33.5 70L32.2 74L28 78.4L24 80.5L20 81.7L14 82.2L10 81.9L6 80.9L0 78.4L-10 72.3ZM435.1 36L442 34.7L450 35.6L456 38.1L460.7 42L464.1 48L464.5 54L462.2 60L458.6 64L455.8 66L451.3 68L446 69.2L442 69.3L436 68.4L432 66.9L428 64.5L425.3 62L421.9 56L421.3 52L422 48L426.1 42L431.2 38ZM283.7 60L288 59.2L292 59.2L298 60.3L302 62L306 64.5L309.7 68L313.7 74L315.2 78L315.9 82L315.8 86L315 90L313.3 94L310.3 98L308 100.1L304 102.6L300 104.1L294 104.9L288 104.2L282 102.5L274 103.9L268.3 102L266.1 100L265 98L264.4 94L264.9 92L267.7 88L268.5 86L268.2 78L270 71.4L272 68L275.8 64L280 61.4Z"/>
<path fill="#4393c3" d="M53.7 -10L102.3 -10L102.5 -2L101.4 2L99.3 6L96 9.8L92 12.8L88 14.8L84 16L80 16.6L74 16.4L66 13.9L62 11.5L58 7.7L55.5 4L53.9 0L53.3 -4ZM300.7 -10L353.1 -10L357.1 0L358 4.4L358.3 12L358 16.6L356.7 22L354.9 26L352 30.5L348 34.7L343.2 38L338 40.2L332 41.3L326 41L320 39.5L316 37.7L310.4 34L306.3 30L303.3 26L300.1 20L298.2 14L297.3 8L297.4 2L298.6 -4ZM-10 26L-10 24.8L-4 25.6L0 27L6 30.1L14 36.3L22 45.3L27.1 54L29.5 62L29.6 66L28.6 70L25.1 74L22 75.8L18 77.1L14 77.5L8 76.8L0 73.9L-10 67.3ZM438.2 42L444 41.3L447.8 42L451.9 44L454.1 46L456.1 50L456.1 54L454.1 58L452 59.9L448 61.9L442 62.7L436 61.1L431.9 58L429.9 54L429.9 50L430.6 48L434 44.1ZM285.8 70L290 69L296 69.9L300 72.1L303.6 76L305.2 80L305.2 86L303.3 90L300 93.1L296 94.7L290 94.7L284.1 92L280.4 88L278.8 84L278.8 78L280 75.1L282 72.5Z"/>
<path fill="#2166ac" d="M57.4 -10L98.6 -10L99.1 -6L98.8 -2L97.5 2L96 4.6L93 8L90 10.2L86 12.1L82 13.2L74 13.2L70 12.1L66 10.2L63 8L60 4.6L58.5 2L57.2 -2L56.9 -6ZM309 -8L310 -10L343.8 -10L347.7 -4L349.6 0L350.7 4L351.3 10L350.6 16L349.2 20L347 24L344 27.5L340 30.5L336 32.3L332 33.1L328 33.2L324 32.6L320 31.1L316 28.7L312.8 26L309.5 22L307.2 18L304.9 10L304.8 4L305.4 0L306.8 -4ZM-10 30L-10 29.3L-6 29.1L-2 29.8L2 31.4L10 36.4L17.6 44L22.8 52L25.4 60L24.9 66L22 69.8L18 72L14 72.8L10 72.7L6 72L-2 68.3L-10 62Z"/>
<path fill="#053061" d="M61.2 -10L94.8 -10L95.5 -6L95.2 -2L94 1.2L92.2 4L88 7.6L82 9.9L78 10.3L74 9.9L68 7.6L64 4.2L62.4 2L60.5 -4ZM321.1 -8L326 -9.7L330 -9.3L332 -8.5L338 -4.6L340.3 -2L342.5 2L343.6 6L343.9 10L342.5 16L340.1 20L338.1 22L334 24.3L328 25.2L322 23.5L317.4 20L313.5 14L312.1 8L312.8 2L315.9 -4L318 -6.1ZM-8 34L-4 33.3L2 34.9L8 38.4L14 44L19.4 52L21.2 58L21.1 62L20.2 64L18.3 66L16 67.3L12 68.2L8 68L4 66.9L0 65L-4 62.1L-10 55.7L-10 34.9Z"/>
<use href="#coast"/>
<path class="er" d="M187 -10L189 2L188.9 14L188.1 20L186.5 26L184.2 32L182 36.2L178.1 42L174.6 46L170.5 50L165.2 54L158 57.9L154 59.3L150 60.2L144 60.7L138 60.4L132 59.1L126 57L120 53.8L114.7 50L110 45.7L105.1 40L102 35.2L101.2 32L101.4 30L105.2 16L107.2 6L107.9 -2L107.9 -10M431.4 -10L432.9 2L432.3 14L431 20L429.1 26L426 33.3L423.3 38L420 42.6L416 46.9L412 50.4L406.7 54L402 56.4L396 58.5L386 59.9L380 59.7L374 58.5L368 56.4L364 54.4L358 50.4L354 46.9L350 42.6L346.6 38L341.4 28L339.4 22L338 16L337 4L338.6 -10M243.7 76L248.9 76L253.1 78L254.4 80L254.5 82L253.6 84L250 86.8L246 87.8L242 87.4L239 86L237.3 84L237 82L237.6 80L239.3 78L243.7 76M39.3 116L34 110.6L32.7 108L32.3 106L32.7 102L37.5 94L37.2 92L29.4 78L23.6 66L17.2 50L12.3 34L7.2 26L5.3 20L5.1 16L5.6 12L8 5.7L10 2.5L13.8 -2L16 -3.4L18 -3.8L20 -3.8L24 -2.6L28 -0.4L32 2.8L34 5.3L38.7 14L42.7 20L57 36L61.7 44L70.6 64L74.2 74L77.1 84L79.3 94L80.3 102L80.5 110L79.8 116M174.3 -10L176.9 2L176.9 12L174.8 22L171.1 30L168 34.4L164.6 38L158 42.8L150 45.9L142 46.8L136 46L132 44.8L124 40.8L120 37.7L116.3 34L110.8 26L109 22L108.5 18L110.6 -10M161.1 -10L163.9 -2L165 4L164.6 12L162.8 18L159.4 24L154 29.1L148 32L142 32.8L136 31.8L130 29L124.3 24L120.4 18L118.1 12L117 4L117.4 -2L119.6 -10"/><path class="er dash" d="M41.7 -10L41.9 0L44 8L48 15.6L51.4 20L57.8 26L64.1 30L72 32.9L80 33.8L88 32.7L92 31L94 29.4L98 23.5L102 13.7L103.8 6L104.6 -2L104.5 -10M225.4 -10L225.3 -2L226 2L227.5 6L231.2 12L237 18L238.2 20L236.7 22L222 29.3L207.9 38L197.4 46L187.1 56L182.3 62L179.9 66L178.1 70L177.2 74L177.5 78L178.3 80L180 82L183.4 84L190 85.3L200 84.8L210 82.5L222 78.4L226 76.6L236 70.3L245.8 66L249.1 64L258 57.7L267.1 50L276.2 40L280.1 34L281.9 30L282.8 26L282.5 22L281.7 20L278.5 16L278.8 14L282.7 6L284 2L284.9 -4L284.6 -10M486 35.2L481 28L476 23.5L470 20.8L466 20.3L462 20.7L456 23.5L452 27.3L450 29.9L448 33.4L446 38.6L445 44L444.7 48L446 56L449.2 62L454 66.5L458 68.6L462 69.7L466 69.9L470 69.2L476 66.5L481 62L486 54.8M154.5 116L156.1 112L156.8 108L156.1 104L154 100.4L151.7 98L148 95.6L144 94L138 93.1L132 93.6L128 94.7L124 96.8L120.3 100L117.9 104L117.2 108L117.9 112L119.5 116M49.9 -10L49 -4L49.3 2L51 8L54.4 14L58.1 18L64 22.1L70 24.5L78 25.5L84 24.9L90 23.1L94 20.8L96 18.9L98 16.1L100 11.7L102 3.8L102.5 -2L102.2 -10M240.7 -10L240.2 -4L241.2 0L242.2 2L244 4.3L248 7.2L254 8.8L260.2 8L264 6L266.3 4L268 1.7L269.5 -2L269.8 -6L269.3 -10M59.2 -10L58 -4L58 0L58.9 4L60.8 8L64 11.7L68 14.6L72 16.2L78 17.1L84 16.2L88 14.6L92 11.7L95.1 8L96.9 4L97.8 0L97.8 -4L96.6 -10M69.6 -10L67 -4L67 0L67.6 2L70 5.4L72 7L74.3 8L78 8.6L81.7 8L84 7L86 5.4L88.4 2L89 0L89 -4L86.4 -10"/>
</g>
<path d="M78 536V531.5M78 640.8V645.3M236.3 536V531.5M236.3 640.8V645.3M394.7 536V531.5M394.7 640.8V645.3M553 536V531.5M553 640.8V645.3M78 536H73M553 536H558M78 562.2H73M553 562.2H558M78 588.4H73M553 588.4H558M78 614.6H73M553 614.6H558M78 640.8H73M553 640.8H558" stroke="#000" stroke-width="2.2" fill="none"/><path d="M104.4 536V533.4M104.4 640.8V643.4M130.8 536V533.4M130.8 640.8V643.4M157.2 536V533.4M157.2 640.8V643.4M183.6 536V533.4M183.6 640.8V643.4M209.9 536V533.4M209.9 640.8V643.4M262.7 536V533.4M262.7 640.8V643.4M289.1 536V533.4M289.1 640.8V643.4M315.5 536V533.4M315.5 640.8V643.4M341.9 536V533.4M341.9 640.8V643.4M368.3 536V533.4M368.3 640.8V643.4M421.1 536V533.4M421.1 640.8V643.4M447.4 536V533.4M447.4 640.8V643.4M473.8 536V533.4M473.8 640.8V643.4M500.2 536V533.4M500.2 640.8V643.4M526.6 536V533.4M526.6 640.8V643.4M78 541.2H75.2M553 541.2H555.8M78 546.5H75.2M553 546.5H555.8M78 551.7H75.2M553 551.7H555.8M78 557H75.2M553 557H555.8M78 567.4H75.2M553 567.4H555.8M78 572.7H75.2M553 572.7H555.8M78 577.9H75.2M553 577.9H555.8M78 583.2H75.2M553 583.2H555.8M78 593.6H75.2M553 593.6H555.8M78 598.9H75.2M553 598.9H555.8M78 604.1H75.2M553 604.1H555.8M78 609.4H75.2M553 609.4H555.8M78 619.8H75.2M553 619.8H555.8M78 625.1H75.2M553 625.1H555.8M78 630.3H75.2M553 630.3H555.8M78 635.6H75.2M553 635.6H555.8" stroke="#000" stroke-width="1.2" fill="none"/><rect x="78" y="536" width="475" height="104.8" fill="none" stroke="#000" stroke-width="2.4"/>
<text class="t26" transform="translate(76 529.8) scale(1.012 1.04)">20-Feb to 22-Feb</text>
<text class="t26" transform="translate(57.3 545.7) scale(1 1.04)" text-anchor="end">40N</text>
<text class="t26" transform="translate(57.3 571.9) scale(1 1.04)" text-anchor="end">30N</text>
<text class="t26" transform="translate(57.3 598.1) scale(1 1.04)" text-anchor="end">20N</text>
<text class="t26" transform="translate(57.3 624.3) scale(1 1.04)" text-anchor="end">10N</text>
<text class="t26" transform="translate(57.3 650.5) scale(1 1.04)" text-anchor="end">0</text>
<text class="t26" x="78" y="683" text-anchor="middle">180</text>
<text class="t26" x="236.3" y="683" text-anchor="middle">120W</text>
<text class="t26" x="394.7" y="683" text-anchor="middle">60W</text>
<text class="t26" x="553" y="683" text-anchor="middle">0</text>
<g transform="translate(635 31)" clip-path="url(#c10)">
<rect width="475" height="104.8" fill="#f8f8f8"/>
<path fill="#fddbc7" d="M-10 -10L21.6 -10L26.6 -2L29.1 4L30.6 10L31.2 16L31.1 22L30.1 28L27.1 36L24 42.5L15.2 54L20 58.3L24 63.1L27.4 70L29 76L29.9 84L29.2 96L32.1 102L32.9 106L32.7 108L30.8 112L26.8 116L1.4 116L-4 111.7L-10 104.5L-10 65.5L-4.4 58L-7.5 56L-10 55.3ZM95.5 -10L161.8 -10L164 2L165.6 20L165.1 24L163.9 26L156 31.5L140 46.9L132 52.6L120 58.8L111.6 62L102 64.4L88 65.3L82 64.5L78 63.1L72 58.4L68 53.4L64.2 36L64 33L64.3 32L74 23.5L80.6 16L87.1 6ZM275.6 -10L355.4 -10L357.8 2L357.6 14L356.6 20L354.3 28L349.3 38L344.6 44L340 48.1L332 53.1L324 56L316 57.4L308 57L300 55.1L292 51.3L286 46.7L281.6 42L277.4 36L274.8 30L273.9 24L273.7 12ZM440.9 -10L486 -10L486 17.9L476 21.3L468 22.1L458 20.9L452 18.2L448 14.8L444 10L440 2.4L439 -4ZM453.7 42L456 40.8L460 40.1L466 40.4L470 41.3L474 43L478 45.5L486 53.2L486 96.8L480 102.9L476 105.9L471.9 108L466 109.6L460 109.9L454 108.7L448 105.9L444 102.8L443.4 100L444.1 92L443.4 86L441 80L435.7 72L435 70L435.9 68L447.2 52L452 43.7ZM202.4 62L212 61.3L225.1 62L230 62.8L236 64.1L242 66.3L248 69.3L252 72.3L254 75L254.9 78L255.6 86L254 104L252 111.4L249.8 116L150.6 116L149.1 110L150.2 102L152 97.1L156 89.5L160 83.6L164 78.9L170 73.5L178 68.9L190 64.5Z"/>
<path fill="#f4a582" d="M-10 -10L17.3 -10L23.1 -2L25.1 2L27.1 8L28.2 16L28.1 22L26.5 30L24.1 36L20.4 42L16 46.6L12 49.4L6 51.9L2 52.6L-2 52.6L-10 50.7ZM97.7 -8L100.1 -10L156.8 -10L159.7 -4L160.7 0L161.1 6L160.4 12L156.8 22L150.5 32L141.4 42L130 50.9L116.5 58L104 61.9L92 63L82.8 62L76 58.9L72.4 56L70 53.2L68 47.3L65.8 34L66.5 32L68.2 30L76 22.4L81.3 16L86.7 8L94 -4.8ZM277.7 -10L350.7 -10L353.4 2L353.8 8L353.4 14L351.2 24L348.8 30L346 34.9L342 40.1L335.6 46L328.7 50L322 52.3L314 53.2L308 52.7L300 50.3L294 47.1L288 42.2L284 37.7L280 31.5L276.9 24L275.7 18L275.5 8L276 0.8ZM449.6 -10L486 -10L486 10.4L478 14.7L470 16.4L462 15.9L458 14.7L454 12.8L448.4 8L447.2 6L445.8 2L446.3 -4ZM196.8 74L208 72.3L220 72.8L230 75.4L238 80L240.2 82L243.1 86L245 92L244.9 96L243.9 100L240.5 106L236.9 110L229.7 116L171.3 116L166.9 110L165 104L165.4 98L168.1 92L173.1 86L180 80.8L188 76.8ZM11.4 102L16 100.2L20 100.6L22.6 102L24.2 104L24.7 106L24.2 108L22.6 110L20 111.4L18 111.8L14 111.4L11.4 110L9.8 108L9.3 106L9.8 104Z"/>
<path fill="#d6604d" d="M-10 -10L12.3 -10L19.6 -2L22 2.1L24.2 8L25.3 14L25.3 22L24.2 28L22 33.9L19.6 38L16 42.4L11.4 46L6 48.4L2 49.2L-2 49.2L-10 47.1ZM102.7 -8L105.5 -10L151.4 -10L155.3 -4L156.8 0L157.5 6L156.4 14L152.3 24L146 33.3L137.6 42L128 49.2L118 54.6L106 58.7L96 60.2L86 59.3L82 58.1L77.9 56L75.3 54L72 50.2L70 46L68.8 40L68.6 36L69.3 32L71.9 28L79 20L83.5 14L94 -2.1ZM281.8 -10L346.2 -10L349.2 2L349.6 8L349.2 14L346.7 24L344 29.8L341.3 34L336 39.8L330.2 44L324 46.8L318 48.2L312 48.4L306 47.4L300 45.2L294 41.5L290 37.9L285.3 32L282 25.7L279.5 18L278.6 12L278.6 4L279.5 -2ZM457.8 -8L460.4 -10L475.6 -10L480 -6.4L481.8 -4L482.9 0L481.8 4L478 8.1L472 10.5L466 10.8L460 9.2L455.6 6L453.4 2L453.4 -2L454.2 -4ZM201.7 84L208 83.3L214 83.7L220 85.5L224.1 88L227.1 92L227.8 96L226.8 100L224 104L220 107.3L214.9 110L210 111.6L204 112.6L198 112.6L194 111.9L190 110.5L185.9 108L184 105.9L182.3 102L182.5 98L184.4 94L188 90.1L191.1 88L196 85.6Z"/>
<path fill="#b2182b" d="M-8.7 -8L-4.4 -10L4.4 -10L10 -7.2L14 -4.1L17.5 0L20 4.6L21.9 10L22.8 16L22.6 22L21.3 28L19.8 32L17.5 36L14 40.1L10 43.1L4 45.5L-2 45.8L-10 43.5L-10 -7.5ZM108.4 -8L111.9 -10L144.9 -10L150.6 -4L153.3 2L153.7 10L151.8 18L147.9 26L141.9 34L133.6 42L124 48.7L114 53.4L104 56.3L94 57L86 55.6L82.1 54L79.1 52L76 48.9L74.2 46L72.7 42L72.2 38L73.1 30L75.4 26L83.1 16L92 2.9L98 -2.2ZM285.9 -8L286.5 -10L341.5 -10L343.6 -4L345 2L345.2 12L342.9 22L341.1 26L338 31L333.5 36L328 40L323.6 42L318 43.4L312 43.6L308 43L302 41L297 38L292.5 34L289.3 30L285.9 24L283.8 18L282.8 12L282.8 4L283.8 -2Z"/>
<path fill="#67001f" d="M115.9 -8L122.1 -10L134.7 -10L142 -6.7L145.4 -4L147.1 -2L149.1 2L150.2 8L149.6 14L146.8 22L141.8 30L136 36.5L128 43.1L119.9 48L110 52L102 53.7L94 53.8L86 51.7L80.6 48L78.9 46L76.9 42L75.9 38L75.8 34L76.4 30L77.7 26L88 10.6L94 3.9L104 -2.9ZM291.5 -10L336.5 -10L339.1 -4L340.7 2L341 12L339.8 18L338.3 22L336 26.2L332 31.2L328 34.5L324 36.8L320 38.2L314 38.9L308 38.2L304 36.8L300 34.5L296 31.2L292 26.2L289.7 22L288.2 18L287 12L287.3 2L288.9 -4ZM-4.4 -6L0 -6.6L4 -6.1L8 -4.6L11.7 -2L15.3 2L17.6 6L19.8 14L20 20L19.5 24L18.4 28L16 32.9L13.7 36L10 39.4L6 41.5L2 42.5L-4 42.1L-10 39.8L-10 -3.8Z"/>
<path fill="#d1e5f0" d="M38.9 -10L92.6 -10L91.7 -6L88.4 2L82 13.2L74 22.6L62.1 32L62.1 34L64 40L66.5 54L67.5 56L72 61L78 66.5L80 67.6L90 68.4L104 66.9L121.6 62L126 61.6L132 62.6L140 65L146.6 68L152.6 72L156.3 76L156.3 78L155.7 80L146.8 96L142 109.6L135.6 116L64.4 116L58 110.7L50 107.5L44 101.9L40 94.7L37.7 86L36.7 74L37.6 60L36.6 58L31.5 52L29.5 48L28.7 44L29 40L30 37.1L32 33.2L34 31L40 27.6L46.5 26L46.7 24L41.4 16L38.6 8L37.6 0ZM165.9 -10L274.2 -10L272.8 4L272 23.4L270.3 32L265.3 40L258 47.8L252 52.2L244 56L236 57.4L224 57.1L216 56.1L204 52.9L194 48.1L186 42.7L178.7 36L174 30.2L171 24L168.4 14L166.3 0ZM384.4 -8L387.5 -10L422.5 -10L430 -5.4L434 -2.1L440.8 10L447.8 20L449.2 24L449.6 30L448.3 38L446.3 44L440 55.9L428.1 70L428.4 72L434 77.9L436 80.8L438.2 86L438.7 90L438.3 94L436 98.9L434 101.2L428 105.3L420 108.3L408 111.1L394 112.8L382 113.1L372 112.6L352 110.2L330 108.9L314 106.7L300 112.3L286 115.1L274 115.1L264 113.3L260 112.1L258.9 110L258.6 108L259.4 92L262 78.3L264 76.8L272 75.4L286 74.3L294.1 70L304 66.2L312.2 64L323.3 62L342 60.2L366 60.5L367.2 60L367.2 58L362.3 46L360.4 38L360.2 28L362 19.1L364.7 12L370 3.8L376 -2.4Z"/>
<path fill="#92c5de" d="M41.8 -10L90.1 -10L90.2 -6L88.5 0L86 5.4L82.2 12L78 17.5L70 25L66 27.5L62 28.7L56 27.1L52 24.5L47.4 20L44 14.7L41.5 8L40.5 2L40.7 -4ZM172.7 -10L271.8 -10L270.4 14L268.8 22L265.1 30L259.5 38L253.1 44L246 48.3L238 50.9L230 51.4L220 50.4L210 47.9L200 43.6L192 38.5L184.8 32L178.6 24L174.7 16L172.4 8L171.7 0ZM397.5 -2L404 -2.8L412 -2.1L418 -0.3L424 2.8L430 7.7L433.5 12L436.9 18L438.9 24L439.8 30L439.3 38L437.7 44L434 51.3L430 56.3L424 61.2L418 64.3L412 66.1L404 66.8L398 66.1L392 64.3L386 61.2L380 56.3L376.5 52L373.1 46L371.1 40L370.2 34L370.7 26L372.3 20L375.2 14L379.8 8L384.3 4L390 0.6ZM42.8 32L46 31.3L50 31.3L56 32.9L60 35.6L62.3 40L64.1 50L64 52L61.7 58L65.2 62L67.3 66L68.5 70L68.9 76L68 82L66 86.8L63.4 90L60 92L56 92L52.6 90L50 86.8L48 82L47.2 78L47.2 72L48.7 66L50.7 62L50.6 60L44 57.1L39.3 54L35.9 50L34.3 46L34 42L35.2 38L38 34.6ZM372.3 74L380 73.2L390 73.2L398 74L406.4 76L412 78.2L417.8 82L420.5 86L420.5 90L417.8 94L415.3 96L410 98.7L400 101.6L390 102.8L378 102.7L368 101.2L358.3 98L352.2 94L350.5 92L349.2 88L350.5 84L352.2 82L354.7 80L360 77.3L366 75.3ZM88 86L96 85L106 85L114 86.2L122 88.8L128.1 92L132.5 96L134.5 100L134.5 104L133.7 106L130 110.5L121.5 116L78.5 116L71.9 112L67.5 108L65.5 104L65.5 100L67.4 96L72 91.9L80 88.1Z"/>
<path fill="#4393c3" d="M44.4 -10L87.6 -10L88.3 -6L88.1 -2L84 7.8L80 14L76 18.7L72 22.4L68 25L66 25.8L62 25.9L56.5 24L52 20.9L49.2 18L46 13.1L44 8L43 2L43.2 -4ZM180.5 -10L266.8 -10L267.6 -2L267.5 4L265.3 16L262.1 24L258 30.7L252 37.2L246 41.3L240 43.8L232 44.9L222 44.1L214 42.2L206 39.1L198 34.3L190.8 28L186.1 22L182 14L179.8 6L179.4 -2ZM399.2 8L404 7.3L408 7.5L414 9L418 11L422 14.1L425.3 18L427.6 22L429 26L429.6 30L429.4 36L428.4 40L426 45L423.8 48L419.5 52L414 55L410 56.2L406 56.7L400 56.2L396 55L392 53L388 49.9L384.7 46L382.4 42L381 38L380.4 34L380.6 28L381.6 24L384 19L386.2 16L390.5 12L394 9.9ZM47.1 36L50 35.9L54 37.1L58 39.9L59.5 42L60.2 44L60.3 48L59.5 50L58 51.8L56 53.1L52 54.1L48 53.7L44 51.8L40.5 48L39.4 44L40.5 40L44 36.9ZM97.5 90L108 90.6L113.7 92L118.4 94L122 96.7L124.2 100L124.2 104L123.1 106L118.4 110L114 111.9L108 113.4L100 114.2L92 113.4L86 111.9L81.6 110L76.9 106L75.8 104L75.8 100L78.7 96L81.6 94L86.3 92L92 90.6Z"/>
<path fill="#2166ac" d="M47.1 -10L84.9 -10L86.3 -4L85.6 2L81.9 10L78 15.3L74 19.5L70 22.3L68 23.1L64 23.4L60 22.5L56 20.6L52.8 18L49.4 14L47.4 10L46.1 6L45.4 0L45.7 -4ZM188 -8L188.3 -10L261.5 -10L262.4 2L261.8 8L260.3 14L258 20L254 26.5L250 30.9L244 35.3L238 37.6L232 38.4L224 37.8L216.4 36L208 32.5L202 28.6L196.9 24L192.2 18L189.2 12L187.5 6L187 0Z"/>
<path fill="#053061" d="M49.8 -10L82.2 -10L83.8 -4L83.9 2L81.8 8L76 16.1L74 17.9L70 20.1L66 20.7L60 19.6L54 15.5L50.1 10L48.2 4L47.9 -2ZM195.8 -8L196.3 -10L256.2 -10L257.1 -4L257.2 2L255.4 12L252.8 18L250 22.3L246 26.5L240.4 30L236 31.4L230 31.8L224 31.1L218 29.5L212 26.9L206 22.9L202 19L198.4 14L196.5 10L194.9 4L194.7 -2Z"/>
<use href="#coast"/>
<path class="er" d="M35.4 -10L35.5 0L36.8 10L38.9 18L46.2 36L47 42L46.5 62L45.1 80L42.5 98L38.8 116M166.3 -10L170 6.8L171.2 18L171.3 28L169.7 36L167.8 40L164 45.4L160 49.4L156.4 52L152 54.3L148 55.7L144 56.6L138 57L132 56.5L126 55L116 50.7L110 46.8L106 43.6L100.4 38L96 32.6L92 26.4L90.3 20L88.8 -10M382.8 -10L382.7 0L380.9 8L377.4 16L371.6 24L364 30.8L356 35.4L346 38.8L336 40L326 39.2L320 37.7L315.3 36L306 30.8L298.4 24L296 21.1L294 17.6L292 10.5L291.1 0L291 -10M216.6 70L226 68.8L230 69L235.4 70L238.5 72L239.3 74L239 76L238 78.2L235.1 82L230.1 86L226.4 88L222 89.6L218 90.5L214 90.6L210 89.9L206.7 88L205.1 86L204.5 84L205 80L207.2 76L208.9 74L211.6 72L216.6 70M24.2 -10L27.9 6L30.2 22L31.3 38L31.1 56L29.7 72L27.1 88L23.3 102L18.1 116M156.9 -10L160.7 0L162.7 10L162.5 20L160.4 28L158.4 32L156 35.5L153.7 38L150 40.9L144 43.6L140 44.6L136 44.8L128 43.8L124 42.5L118.8 40L110.5 34L104 26.9L98.5 18L95.3 10L93.7 2L93.5 -10M365.9 -10L366.1 -4L365.2 2L362.9 8L358.6 14L354 18.1L348 21.5L342 23.4L336 24.2L328 23.4L322 21.5L316 18.1L311.4 14L307.1 8L304.8 2L303.9 -4L304.1 -10M145.5 -10L149.4 -2L151.4 4L152.2 12L151.4 18L148.9 24L145.7 28L143.1 30L140 31.5L134 32.7L130 32.4L126 31.3L120 28.3L114.7 24L110 18.3L106.6 12L104.2 4L103.8 -2L104.8 -10M348.6 -10L349.2 -4L348.2 0L347.1 2L345.5 4L342 6.6L340 7.5L336 8.3L330 7.5L327 6L324 3.5L322 0.4L321.1 -2L320.8 -6L321.4 -10M-10 6.4L-6 5.1L-4 5.1L-2 5.8L0 7.1L3.3 12L4.4 16L4.8 20L4.4 24L3.3 28L0 32.9L-2 34.2L-4 34.9L-6 34.9L-10 33.6M130.4 -10L136 -5.1L138.4 -2L140.4 2L141.5 8L141.1 12L139.4 16L136 19.2L132 20.4L130 20.4L126 19.4L122 16.9L118 12.6L115.6 8L114.5 2L114.9 -2L116.6 -6L119.9 -10"/><path class="er dash" d="M40.4 -10L40 -2L40.7 6L42 12.1L46 22.1L50 28.2L54 32.2L58 34.3L64 34.9L70 33.8L74.2 32L80 27.7L82.7 24L84.2 20L85.3 10L85.5 2L84.6 -10M173.5 -10L178 20.7L180 29.6L184.3 38L192 47.8L196.4 52L201.6 56L206 58.7L210 60.4L218 61.6L242 61.7L246 61.4L250 60.5L254 58.7L260 54.9L265.8 50L269.7 46L277 36L282 26L284 18.5L284.3 -10M426.3 -10L424.4 2L424.1 14L425.6 26L428.5 36L432.3 44L438 51.4L444 55.9L448 57.4L452 57.9L456 57.4L460 55.9L466 51.4L471.7 44L475.5 36L478.4 26L479.9 14L479.6 2L477.7 -10M113.6 116L118.5 110L119.7 106L119.3 102L117.1 98L112.1 94L104 90.8L103.1 90L98.2 80L94.6 74L90 68.1L86 64.2L82 61.2L78 59.2L74 58.4L72 58.6L70 59.4L68 61.3L66.1 66L66 72L67.1 78L69 84L71.8 90L79.5 102L80.7 108L81.5 110L86.4 116M45 -10L44 -3.8L44 2.6L45.6 10L48 15.3L51.9 20L54.6 22L60 24.1L64 24.3L70 22.8L74 20.1L77.7 16L80 12L81.3 8L82 2L82 -2L80.7 -10M186.6 -10L186.9 2L188.9 12L192.7 22L198 30.5L204 37L212 42.7L220 46L224 46.9L230 47.4L236 46.9L240 46L248 42.7L256 37L262 30.5L267.3 22L271.1 12L273.1 2L273.4 -10M443.7 -10L440 -2.1L438.5 4L438.1 12L438.9 18L440.7 24L444 29.5L448 32.8L452 33.8L456 32.8L460 29.5L463.3 24L465.1 18L465.9 12L465.5 4L464 -2.1L460.3 -10M54.7 -10L53 -6L52 -2L52 2L53 6L55.4 10L58 12.3L60 13.3L64 13.7L68 12.3L70 10.7L72 8L73.6 4L74 -2L73 -6L71.3 -10M201.2 -10L201.2 -2L202.5 6L204.7 12L208.2 18L212 22.3L218 26.8L224 29.2L230 29.9L236 29.2L242 26.8L248 22.3L251.8 18L255.3 12L257.5 6L258.8 -2L258.8 -10"/>
</g>
<path d="M635 31V26.5M635 135.8V140.3M793.3 31V26.5M793.3 135.8V140.3M951.7 31V26.5M951.7 135.8V140.3M1110 31V26.5M1110 135.8V140.3M635 31H630M1110 31H1115M635 57.2H630M1110 57.2H1115M635 83.4H630M1110 83.4H1115M635 109.6H630M1110 109.6H1115M635 135.8H630M1110 135.8H1115" stroke="#000" stroke-width="2.2" fill="none"/><path d="M661.4 31V28.4M661.4 135.8V138.4M687.8 31V28.4M687.8 135.8V138.4M714.2 31V28.4M714.2 135.8V138.4M740.6 31V28.4M740.6 135.8V138.4M766.9 31V28.4M766.9 135.8V138.4M819.7 31V28.4M819.7 135.8V138.4M846.1 31V28.4M846.1 135.8V138.4M872.5 31V28.4M872.5 135.8V138.4M898.9 31V28.4M898.9 135.8V138.4M925.3 31V28.4M925.3 135.8V138.4M978.1 31V28.4M978.1 135.8V138.4M1004.4 31V28.4M1004.4 135.8V138.4M1030.8 31V28.4M1030.8 135.8V138.4M1057.2 31V28.4M1057.2 135.8V138.4M1083.6 31V28.4M1083.6 135.8V138.4M635 36.2H632.2M1110 36.2H1112.8M635 41.5H632.2M1110 41.5H1112.8M635 46.7H632.2M1110 46.7H1112.8M635 52H632.2M1110 52H1112.8M635 62.4H632.2M1110 62.4H1112.8M635 67.7H632.2M1110 67.7H1112.8M635 72.9H632.2M1110 72.9H1112.8M635 78.2H632.2M1110 78.2H1112.8M635 88.6H632.2M1110 88.6H1112.8M635 93.9H632.2M1110 93.9H1112.8M635 99.1H632.2M1110 99.1H1112.8M635 104.4H632.2M1110 104.4H1112.8M635 114.8H632.2M1110 114.8H1112.8M635 120.1H632.2M1110 120.1H1112.8M635 125.3H632.2M1110 125.3H1112.8M635 130.6H632.2M1110 130.6H1112.8" stroke="#000" stroke-width="1.2" fill="none"/><rect x="635" y="31" width="475" height="104.8" fill="none" stroke="#000" stroke-width="2.4"/>
<text class="t26" transform="translate(633 24.8) scale(1.012 1.04)">23-Feb to 25-Feb</text>
<text class="t26" transform="translate(1110.5 24.8) scale(1 1.04)" text-anchor="end">CFS Forecast</text>
<g transform="translate(635 199)" clip-path="url(#c11)">
<rect width="475" height="104.8" fill="#f8f8f8"/>
<path fill="#fddbc7" d="M-3.2 -10L63.2 -10L64.5 -2L63.7 12L62 20.3L59.4 28L56 34.9L53.4 38L48.7 42L42 46.4L38 48.4L32 49.9L22 49.7L20 51.6L19.1 54L21.9 64L22.8 72L22.5 80L21.3 86L19.6 88L13.4 92L8 94.2L2 95.1L-5.5 94L-10 91.7L-10 11.8L-6 10.1L-5.2 8L-4.9 0ZM102 -10L157.8 -10L160.5 -4L162.5 4L163.1 12L161.7 24L158 36.4L152 48.7L144 59.6L136 67.1L128 72L120 74.9L110 75.5L106 74.7L104 73.7L100 69.9L94 62.4L88 53.1L85.8 48L86 40L87.8 24L90.2 10L94 0.3ZM307.9 -8L308.7 -10L391.3 -10L396.2 2L397.5 8L398 14L397.7 20L396.7 26L394.9 32L392.1 38L387.4 44L378.7 50L370 52.8L362 56.1L358 57L350 57L341.5 56L327.3 52L318.7 48L312.8 44L309.2 40L306 34L303.4 26L302.3 18L302.8 8L304.5 0ZM471.6 34L474 33.3L478 33.3L482 34.7L486 37.3L486 72.8L482 75.5L478 77L474 77.1L472 76.5L468 73.9L463.8 68L460.9 60L460.3 52L460.9 48L462.2 44L466 37.9L468.1 36ZM211.7 62L224 62.1L239 64L244.4 66L248.2 70L250 73.5L251.1 78L251.1 92L253.8 106L252 109.6L246 116L143 116L140.2 110L139 106L138.6 102L139.3 96L140.6 92L142.6 88L145.7 84L150.2 80L159.9 74L175.1 68L192.4 64ZM440.5 84L454 82.6L462 82.9L474 85.6L486 89.7L486 116L348.9 116L342.5 110L340.4 106L340.2 104L340.7 102L342.6 100L346.2 98L356.7 94L372 89.4L412 87.3Z"/>
<path fill="#f4a582" d="M2 -10L58 -10L59.7 -2L60.1 4L59.9 10L58.9 16L57.1 22L54.3 28L51.6 32L48.1 36L42 40.6L36 43L28 43.7L20 42.2L18 43.9L13.1 50L10 52.3L6 54L2 54.9L-2 54.9L-10 52.6L-10 17.4L-0.3 14L0.2 12L0.1 0ZM107.9 -8L109.7 -10L150.1 -10L154 -4L155.9 0L158.4 10L158.5 20L156.7 30L153.9 38L148 48.9L142 56.3L134 63L126 67.3L118 69.3L112 69.4L108 68.7L104 67.3L100 64.8L96 60.8L92 55L90 51L88.5 46L88.1 40L88.6 34L90 22.1L92 14.4L94.9 8L98.7 2L103.7 -4ZM332.7 -8L334.8 -10L365.2 -10L373.2 -2L376 2.7L377.9 8L378.7 14L378.3 20L376.6 26L374.5 30L371.6 34L367.2 38L362 41.1L358 42.6L352 43.7L346 43.5L340 42L335.8 40L330.4 36L326.8 32L324 27.3L322.1 22L321.3 16L321.7 10L323.4 4L325.5 0L328.4 -4ZM475.9 42L480 43.2L482 44.9L485.2 50L486 53.2L485.8 58L482.9 64L480 66.8L476 68L472 66.8L470 65.1L468 62L466.5 56L467.2 50L469.2 46L472 43.2ZM193.8 74L204 72.7L212 73L220 74.7L228 78.6L233.2 84L235.2 90L234.4 96L231.1 102L227.2 106L222 109.8L208.7 116L180.3 116L172 111.4L168 107.7L165.2 102L165.1 96L167.5 90L172 84.7L178 80.2L186 76.3Z"/>
<path fill="#d6604d" d="M7.3 -10L52.7 -10L54.4 -4L55.2 2L54.8 12L53.2 18L50 25L46.2 30L42 33.7L36 36.6L30 37.6L24 36.6L18 33.9L16 33.7L13.1 42L10 46.1L7.2 48L4 49.4L-2 49.8L-6 48.6L-10 46.6L-10 23.4L-6 21.4L-2 20.2L4 20.4L6.4 20L6.5 18L5 10L4.7 4L5.2 -2ZM117.3 -8L120.6 -10L139.2 -10L144 -6.4L148.1 -2L151.3 4L153.3 12L153.5 20L152.3 28L149.7 36L145.5 44L140 51.2L134 56.6L128 60.3L120 62.9L114 63.2L108.3 62L104.2 60L101.5 58L97.9 54L95.6 50L93.5 44L92.5 38L92.5 32L93.3 26L94.8 20L97.2 14L100.5 8L104 3.1L108 -1.2L112 -4.6ZM342 0L344 -1.3L346 -1.4L348.2 0L346 1.9L344 1.8ZM197.1 90L202 89.3L206 90.2L208.2 92L208.8 94L208.3 96L206 98.5L202 100.3L198 100.7L194 99.8L191.8 98L191.2 96L191.7 94L193.3 92Z"/>
<path fill="#b2182b" d="M12.8 -10L47.2 -10L49.3 -4L50.4 2L50.4 8L49.8 12L48 17.6L46 21.5L44 24.3L40 28L34 30.9L30 31.4L26 30.9L20 28L17.6 26L14.3 22L10.7 14L9.5 6L10.2 -2ZM122.5 -4L128 -5L134 -4.4L138 -2.7L142 0.4L144.7 4L147.3 10L148.4 16L148.1 24L146.8 30L144 37L140 43.6L136 48.2L131.5 52L126 55.1L120 56.8L114 56.8L110 55.7L106.9 54L104 51.6L101.3 48L99.3 44L97.8 38L97.9 28L100.6 18L103.6 12L106.3 8L110 3.8L114 0.4L118 -2.1Z"/>
<path fill="#67001f" d="M18 -8L19 -10L41 -10L44.7 -2L45.5 2L45.5 8L44 14L42 18L40 20.5L36 23.6L32 25L26 24.5L22 22.3L20 20.5L16.9 16L14.8 10L14.3 4L15.3 -2ZM122.7 2L128 1.2L132 1.8L136 3.7L138.6 6L141.2 10L142.7 14L143.3 18L143.1 24L141.8 30L140 34.4L136.6 40L133.1 44L128 47.9L124 49.8L120 50.7L116 50.7L110 48.3L105.9 44L103.9 40L102.9 36L102.9 28L105 20L109.4 12L112 8.9L116 5.4Z"/>
<path fill="#d1e5f0" d="M423.5 -8L425.4 -10L459.8 -10L463.6 -4L465.3 0L466.8 6L467.1 14L465.4 24L463.3 30L459 38L454 44.6L448 50.4L440.2 56L440.2 58L446 62.3L448.8 66L449.6 68L449.8 70L449.1 72L446.9 74L442.7 76L436.5 78L427.9 80L415.1 82L406 82.7L378 83.1L366 86.4L352 87.7L333.4 92L322 93.7L320 94.3L312.4 100L308 102.4L302 104.6L294 106.3L272 108.1L268 108L262 106.5L258 102.1L255.4 96L254 88.5L254.2 84L256.4 74L255.8 64L260 60.8L268 57.3L276 54.9L286 52.8L298 51.1L308 50.5L314 51.9L328 56.9L336 59L346 60.9L354 61.6L358 60.9L368 56.3L374 54.3L384 52.6L392 50.5L411.6 50L411.6 48L408.6 40L407 32L407.1 24L408.2 18L410.7 10L413.7 4L417.8 -2ZM75.1 -6L78 -6.8L82 -5.5L85.3 -2L87.5 2L88.1 4L87.7 12L83.6 48L85.1 52L100 74L102.5 80L103 88L102.2 98L100.2 106L96.2 116L-3.1 116L-10 112.4L-10 100.9L-2 101L6 99.5L14 96.7L26 91.4L27.5 88L29.7 72L31.5 66L34 60.3L36.7 56L40.3 52L52 43.7L58 40.8L60 38.7L64.4 24L68 4L70.7 -2L72 -3.7ZM227 -6L242 -6.8L250 -6.2L256 -5.1L262 -3.3L268 -0.5L272 2.4L275.3 6L277.4 10L278.5 14L278.7 18L277.6 24L276 28L272.6 34L264 44L251.6 54L248 56.3L244 57.6L220 57.5L200 58.9L176 62.9L154 68.9L150 68.9L148 67.6L146.6 66L146.7 64L157.2 46L163.1 32L165.1 26L166 21.2L168 16.9L170 14.9L184 7L198 1.1L212 -3.2Z"/>
<path fill="#92c5de" d="M431 -8L433.9 -10L451.3 -10L456 -6L460 -0.4L462.2 6L462.9 12L462.5 18L460.6 26L458 32L454 38.2L450 42.7L444 47.4L438 50.2L432 51.3L428 51.1L424 50L418 46L414.9 42L413 38L411.8 34L411.1 28L412.3 18L416 8L422 -0.7L426 -4.5ZM76.2 10L78 9.4L80 10.1L82 12.3L83.5 16L84.1 20L84 26.5L82 36.7L78.7 42L78 50L79.1 52L86 58.6L90 64.2L94 72L95.6 78L96.5 84L96.5 92L95.6 98L94 104L92 108.8L88 116L42 116L36.7 106L34.8 100L33.7 94L33.4 88L33.7 82L36 72L40 63.5L46.1 56L50 52.8L54 50.5L58 49L64 47.8L65.6 46L67.4 36L70.5 30L72 17.2L74 12.3ZM220.1 12L226 11.4L231.7 12L235.5 14L236.7 16L236.4 20L234.2 24L230.7 28L226 32.1L220 36.3L212 40.7L204 44.1L196 46.7L188 48.3L182 48.5L178 47.9L174.5 46L173.3 44L173.1 42L174.5 38L177.4 34L183.9 28L193.1 22L202 17.5L212 13.9ZM372.7 58L376 57.6L380 57.9L383.9 60L385.3 62L385.8 64L385.8 66L384.5 70L379.5 76L376 78.6L372 80.6L368 81.9L364 82.5L360 82.1L358 81.3L356 79.9L354.7 78L354.2 76L354.7 72L356.8 68L360 64.5L363.3 62L366.9 60ZM264.5 82L268 80.4L270 80.1L274 81.1L276 82.4L278 85.2L278.6 88L278 90.8L276 93.6L274 94.9L270 95.9L266 94.9L264 93.6L262 90.8L261.4 88L262.6 84Z"/>
<path fill="#4393c3" d="M438.8 -6L444 -6.2L448 -5.2L452 -2.7L454.5 0L456.8 4L458.1 8L458.7 14L458.1 20L456.4 26L454.7 30L452 34.3L448 39L444 42.3L440 44.5L434 46.2L430 46.2L423.8 44L421.2 42L418.2 38L416.4 34L415.5 30L415.3 26L415.9 20L418.4 12L420.5 8L424 3.1L428 -0.8L432 -3.5ZM56.4 58L62 56.3L66 56.1L70 56.7L74 58.2L78 60.6L82 64.4L84.7 68L87.7 74L90.1 84L90.3 90L89.5 96L88 101.3L85.9 106L83.3 110L78 116L52 116L46 109.1L42.3 102L40.5 96L39.7 90L40.1 82L41.6 76L44.1 70L48 64.4L52 60.6Z"/>
<path fill="#2166ac" d="M435 0L438 -1L442 -1.3L446 -0.3L449.5 2L452 5L453.4 8L454.4 12L454.6 16L453.7 22L452.3 26L450.2 30L447.2 34L444 37.1L440 39.6L436 41L432 41.3L428 40.3L426 39.2L422.7 36L420 30L419.4 24L420.9 16L424 9.7L428.8 4ZM61 64L64 63L68 63.6L76 68.5L79.1 72L81.4 76L83.7 84L83.9 90L83.3 94L82.2 98L80 102.6L77.5 106L74 109L70 111.1L66 111.9L62 111.6L58 110.2L52.5 106L48.6 100L46.3 92L46.1 86L46.7 82L49.6 74L54 68.5Z"/>
<path fill="#053061" d="M437.8 4L440 3.7L444 4.6L448 7.9L449.2 10L450.3 14L450.1 20L448 26.1L443.5 32L438 35.5L434 36.3L432 36.1L428 34.2L424.8 30L423.7 26L423.9 20L426 14L428.6 10L433 6ZM62.4 70L64 69L66 69L68 70.4L69.1 72L69.5 74L69.3 76L68 78.1L66 79.4L64 79.4L62 78.1L60.7 76L60.5 74L60.9 72Z"/>
<use href="#coast"/>
<path class="er" d="M135.1 -10L137.7 -2L139 4L139.8 10L140.1 18L139.7 26L138.7 34L135.2 48L132.2 56L129.3 62L126 67.5L122 72.6L118 76.5L114 79.2L110 80.8L106 81.3L102 80.5L98 78.4L94 74.3L92 71.1L90 65.9L88 57.2L86.4 42L86.8 30L89.6 16L94 3.5L101.2 -10M360 -10L359.4 0L356.9 10L352.1 20L346 28L338 35L330 39.6L320 42.9L310 44L300 42.9L290 39.6L282 35L274 28L267.9 20L263.1 10L260.6 0L260 -10M-10 0.1L-4 -3.9L-2 -4.5L2 -4.5L6 -2.7L8 -1L12 4.1L16 12.4L19.3 24L21.3 36L22 50L21.3 64L19.3 76L16 87.6L12 95.9L8 101L6 102.7L2 104.5L-2 104.5L-4 103.9L-10 99.9M147.8 116L144.6 112L142.6 108L142.2 106L142.6 102L144.6 98L148 94.8L152 92.9L156 92.1L160 92.4L164.7 94L168 96.4L170.7 100L171.8 104L171.4 108L169.4 112L166.2 116M345 -10L344.5 -2L343 4L340.4 10L336 16.3L330 21.8L324 25.3L318 27.4L310 28.3L302 27.4L296 25.3L290 21.8L284 16.3L279.6 10L277 4L275.5 -2L275 -10M111.4 0L114 -1.3L118 -1.8L122 -0.3L124.5 2L126.9 6L128.9 12L129.8 18L129.8 26L128.8 34L127.3 40L125.1 46L122 52L119.1 56L116 59L112 61.3L108 61.8L106 61.4L103.6 60L101.5 58L99.1 54L97.6 50L96.4 44L96.2 34L97.7 24L100.9 14L102.9 10L106 5.1L108 2.8L111.4 0M-10 34.9L-6.4 28L-4 24.8L-2 23.4L0 23L2.9 24L6 27.4L8.8 34L10.5 42L11 50L10.5 58L8.8 66L6 72.6L2.9 76L0 77L-2 76.6L-4 75.2L-6.4 72L-10 65.1M329.9 -10L329.8 -6L329 -2L327.4 2L324.6 6L322 8.5L318 10.9L314 12.3L310 12.7L306 12.3L302 10.9L298 8.5L295.4 6L292.6 2L291 -2L290.2 -6L290.1 -10M113.5 18L116 18.1L118 20L119.4 24L119.6 28L118.6 34L116.8 38L114 41.3L112 42.2L110 41.9L108 40L106.6 36L106.4 32L106.9 28L108.1 24L110 20.7L112 18.7L113.5 18"/><path class="er dash" d="M163.1 -10L160.5 2L160.2 14L160.8 20L162.1 26L164.1 32L166.9 38L170 43L174 47.9L178 51.7L182 54.6L190 58.3L194 59.4L200 59.9L206 59.4L210 58.3L218 54.6L222 51.7L226 47.9L230 43L233.1 38L235.9 32L237.9 26L239.2 20L239.8 14L239.5 2L236.9 -10M404.7 -10L403.2 0L403.2 10L405 20L408.8 30L414 38L420.2 44L424 46.5L428 48.3L432 49.4L436 49.9L440 49.7L444 49L448 47.5L452 45.3L458.3 40L464.1 32L468.4 22L470.6 12L470.9 2L469.3 -10M260 69.8L256.3 72L254.1 74L252 77L250.7 80L250.3 86L251.5 90L252.6 92L254.1 94L258 97.2L262 99L266 99.8L270 99.8L274 99L279.7 96L283.4 92L284.5 90L285.7 86L285.3 80L283.4 76L279.7 72L274 69L270 68.2L266 68.2L260 69.8M79.8 116L83 98L83.9 82L82 61.8L80 49.2L78 40.1L76 34L74 29.9L71.4 26L68 22.5L64 20.5L62 20.2L56 20.8L55.6 20L57.1 16L57.8 12L57.4 6L56 2.5L54 0L52 -1.2L50 -1.6L48 -1.2L46 0L44.3 2L42.6 6L42.1 10L43.3 16L46 20L48 21.3L50 21.8L54.4 22L48.9 32L45.7 40L42.6 52L40.8 64L40.1 76L40.3 90L41.6 102L44.2 116M187.3 -10L182.5 -2L180.7 4L180.1 12L181.1 18L184 24.8L188.2 30L190.7 32L194 33.7L200 34.9L206 33.7L209.3 32L211.8 30L216 24.8L218.9 18L219.9 12L219.3 4L217.5 -2L212.7 -10M419.7 -10L417.4 -2L416.7 4L417.4 12L419.2 18L422 23.1L426 27.6L430 30.2L436 31.8L442 31L447.5 28L451.4 24L454.8 18L456.6 12L457.3 4L456.6 -2L454.3 -10M67.9 116L72 107.6L74.6 98L76.1 86L76 72L74.2 60L71 50L68 45L66 42.9L64 41.8L62 41.4L60 41.8L58 42.9L56 45L53 50L49.8 60L48 72L47.9 86L49.4 98L52 107.6L56.1 116M60 63.7L58 66.4L56.2 72L55.5 82L56.2 88L58 93.6L60 96.3L62 97.2L64 96.3L66.6 92L68.1 86L68.5 78L67.8 72L66 66.4L64 63.7L62 62.8L60 63.7"/>
</g>
<path d="M635 199V194.5M635 303.8V308.3M793.3 199V194.5M793.3 303.8V308.3M951.7 199V194.5M951.7 303.8V308.3M1110 199V194.5M1110 303.8V308.3M635 199H630M1110 199H1115M635 225.2H630M1110 225.2H1115M635 251.4H630M1110 251.4H1115M635 277.6H630M1110 277.6H1115M635 303.8H630M1110 303.8H1115" stroke="#000" stroke-width="2.2" fill="none"/><path d="M661.4 199V196.4M661.4 303.8V306.4M687.8 199V196.4M687.8 303.8V306.4M714.2 199V196.4M714.2 303.8V306.4M740.6 199V196.4M740.6 303.8V306.4M766.9 199V196.4M766.9 303.8V306.4M819.7 199V196.4M819.7 303.8V306.4M846.1 199V196.4M846.1 303.8V306.4M872.5 199V196.4M872.5 303.8V306.4M898.9 199V196.4M898.9 303.8V306.4M925.3 199V196.4M925.3 303.8V306.4M978.1 199V196.4M978.1 303.8V306.4M1004.4 199V196.4M1004.4 303.8V306.4M1030.8 199V196.4M1030.8 303.8V306.4M1057.2 199V196.4M1057.2 303.8V306.4M1083.6 199V196.4M1083.6 303.8V306.4M635 204.2H632.2M1110 204.2H1112.8M635 209.5H632.2M1110 209.5H1112.8M635 214.7H632.2M1110 214.7H1112.8M635 220H632.2M1110 220H1112.8M635 230.4H632.2M1110 230.4H1112.8M635 235.7H632.2M1110 235.7H1112.8M635 240.9H632.2M1110 240.9H1112.8M635 246.2H632.2M1110 246.2H1112.8M635 256.6H632.2M1110 256.6H1112.8M635 261.9H632.2M1110 261.9H1112.8M635 267.1H632.2M1110 267.1H1112.8M635 272.4H632.2M1110 272.4H1112.8M635 282.8H632.2M1110 282.8H1112.8M635 288.1H632.2M1110 288.1H1112.8M635 293.3H632.2M1110 293.3H1112.8M635 298.6H632.2M1110 298.6H1112.8" stroke="#000" stroke-width="1.2" fill="none"/><rect x="635" y="199" width="475" height="104.8" fill="none" stroke="#000" stroke-width="2.4"/>
<text class="t26" transform="translate(633 192.8) scale(1.012 1.04)">26-Feb to 28-Feb</text>
<g transform="translate(635 367)" clip-path="url(#c12)">
<rect width="475" height="104.8" fill="#f8f8f8"/>
<path fill="#fddbc7" d="M101.8 -8L108 -10L132.4 -10L140 -7.1L146 -4.1L153.2 2L156.1 6L158.1 10L159.8 18L158.8 26L156 34L148 48.3L142 55L136 59.4L124 65.1L110 69.1L96 70.6L88 70.1L82 69L76 67L72 65L68 62.2L64 58.1L60.3 52L58.9 48L57.9 44L58.3 40L74 10.4L78 4.1L82 0.8L88 -2.6ZM217.5 -10L295.7 -10L297.6 4L296 8.8L292 15.6L289.7 18L286 20.4L273.8 24L268 24.8L258 25.1L247.6 24L239.2 22L229 18L222.4 14L218.2 10L216.1 6L215.1 0L215.5 -4ZM474.5 6L478 5.2L480 5.4L486 8.6L486 81.4L482 83.8L478 84.8L474.4 84L472 82.6L468 78.1L466 74.7L462.2 64L460.9 52L461.3 34L463.4 24L468 13L472 7.7ZM293.8 20L298 18.5L302 18.3L307.9 20L311.3 22L316.4 26L322 32L325.8 38L327.8 44L340.1 48L347.8 52L355 58L360 64.2L364 72L365.8 78L366.7 84L366.3 92L364.9 98L362.4 104L358.5 110L353.3 116L298.7 116L293.1 110L288.9 104L286 97.7L284.9 92L290.8 70L291.9 64L291.1 60L288 54L287 44L289.1 26L291.2 22ZM151.1 54L158 52.4L168 52.9L186.5 56L194.9 58L200 59.9L209.9 68L222.8 80L227.2 86L227.6 88L227.2 90L224 95.1L219 100L214 103.4L206 107.7L200 112.5L193.5 116L162.7 116L160 114.8L153.2 110L148 104.7L142 100.7L136.8 96L132.6 90L130.9 86L130.2 82L130.2 78L130.9 74L132.6 70L135.1 66L142 59.2Z"/>
<path fill="#f4a582" d="M233.7 -10L280.3 -10L282.7 -6L284 -2L283.5 4L281.4 8L278 11.5L274.3 14L269.9 16L264 17.6L258 18.2L252 17.9L246 16.6L240 14.2L236.6 12L234 9.7L231.3 6L230 2L230 -2L231.3 -6ZM107.2 -2L116 -3.1L126 -2.5L134.8 0L142 4.3L147 10L149.7 16L150.4 24L148.5 32L144.2 40L138 47.1L130 53.4L120 58.6L110 61.8L100 63.1L90 62.5L82 60.3L77.3 58L72.2 54L69 50L67 46L65.9 42L65.7 36L68 27.8L74 17.4L78 12.9L82 9.5L88 5.4L94 2.3L100 -0.1ZM475.5 22L478 21.3L480 21.7L482 23L486 27.7L486 62.3L482 67L480 68.3L478 68.7L476 68.3L474 67L470.5 62L468.5 56L467.3 48L467.5 40L469 32L472 25.3ZM316.9 62L322 61L326 61L334 62.8L338 64.8L342 67.9L346.9 74L349.3 80L349.9 88L348.5 94L345.7 100L347.8 104L348.1 106L347.4 108L344 110.6L336 112.6L332 112.5L326 111.4L312 105.2L307.8 102L303.1 96L301.3 92L300.1 86L300.4 80L301.5 76L304 71.3L308 66.8L312 64ZM171.9 86L176 85.3L182 85.5L188 87L194.1 90L198.2 94L200 98L200 102L198.2 106L194 110L190.2 112L186 113.4L180 114.4L176 114.4L170 113.4L166 112.1L162 110L159.5 108L156.6 104L155.7 100L156.6 96L159.5 92L162 90L168 87Z"/>
<path fill="#d6604d" d="M253.4 -8L256 -8.5L260 -8.2L266 -5.7L267.8 -4L269 -2L269.4 0L269 2L267.8 4L264 6.8L258 8.3L252 7.6L248 5.7L246.2 4L245 2L244.6 0L245 -2L246.2 -4L248.4 -6ZM104 6L112 4.5L120 4.5L126 5.7L132 8.4L136.3 12L139.1 16L140.8 22L140.4 28L138.3 34L134.3 40L128 46L122 49.9L114 53.4L106 55.3L98 55.6L92 54.8L88 53.6L84 51.6L80 48.3L78.1 46L75.5 40L75.1 36L75.6 32L76.8 28L78.8 24L81.7 20L85.6 16L94 10.1ZM322.7 70L326 69L329.2 70L330.6 72L330 74L328 75.5L324 75.5L321.9 74L321.3 72ZM332.9 102L336 102L340 102.8L342.1 104L343.2 106L342 108L338 109.5L332 109.5L327.9 108L326.7 106L327.7 104L330 102.6Z"/>
<path fill="#b2182b" d="M109.9 12L116 11.9L120 12.6L124 14.1L128.7 18L130.8 22L131.3 26L130.6 30L128.9 34L125.9 38L122 41.5L118 44.1L112 46.7L106 48L102 48.2L96 47.4L92 45.9L87.3 42L85.2 38L84.9 32L87.1 26L90.1 22L96 17.1L102 14Z"/>
<path fill="#d1e5f0" d="M7 -10L72.6 -10L74.6 0L73.3 6L66 21.8L60 32.2L53.2 42L52.7 44L55.8 58L56 62L55 74L52 88L54 90.1L86 92.4L96.8 94L106 96.1L112 98.2L115.6 100L118.1 102L119.4 104L119.4 106L118.2 108L115.7 110L111.6 112L100 116L6.3 116L-2 108.7L-5.4 104L-6.9 100L-10 94.6L-10 25.4L-4 15.3L2 7.9L4 2.3ZM301.6 -10L439.2 -10L439.9 -4L439.3 2L440 3.5L446.2 8L449.2 12L449.9 18L453.3 28L454.6 36L454.6 44L453.8 50L451.9 56L448.8 62L448.5 64L450.6 74L450.5 80L448.7 86L446.3 90L442 94.4L436 98.1L428 100.7L420 101.6L412 101.2L404 99.5L396 96.7L387.5 92L380 85.9L374 78.2L372 74.2L370 68.2L369.4 62L369.9 58L371.3 54L375.3 48L382 42.5L387 40L388 38.8L390.5 38L386 37.1L368 36.7L354 35.4L338 32.6L332 30.3L326 25.2L315.5 14L307.7 8L304 4.3L302 -2ZM406 35.7L404.3 36L406.9 38L412 38.5L414.4 38L414.6 36L414 35.2L412 34.7ZM200.1 20L212 18.5L218 18.6L236 24.8L246 27.2L258 28.9L276 29.7L278 30.7L279.4 36L279.5 44L280.2 50L280.7 52L286 60.5L287.4 64L287.5 66L286 74.8L284 80.9L282 85.4L279 90L278.5 92L279.5 98L279.1 102L278 104.6L275.3 108L270 111.4L264 112.9L258 112.6L251.4 110L246.9 106L244.9 102L244.3 98L245.2 92L244.3 90L240 85.7L233.6 76L221.8 68L206 55L176.9 46L168.2 42L166.2 40L165.7 38L167.4 34L170 31.4L174.9 28L186 23.3Z"/>
<path fill="#92c5de" d="M15 -10L65 -10L67.6 0L67.9 6L67.6 10L66 15.6L64 20.1L58 29.2L54 32.6L50 34.8L46 36.2L40 36.9L34 36.2L30 34.8L26 32.7L22.6 30L18.9 26L16.3 22L14.5 18L12.7 12L12.2 2L13.2 -4ZM319.8 -8L320.4 -10L419.6 -10L420.6 -4L419.3 0L416.1 4L410.6 8L404 11.1L396 13.7L386 15.6L376 16.6L366 16.7L356 15.9L346 14.1L338 11.8L330 8.3L323.9 4L320.7 0L319.4 -4ZM6.9 42L12 40.3L16 40.1L22 41.5L26 44L28 46.2L29.7 50L29.7 54L27.8 58L26 60L22 62.6L16 63.9L10 63.2L6.9 62L4 60L1 56L0.3 54L0.3 50L2.2 46L4 44ZM398.5 48L408 47.8L417.2 50L426 54.4L432.5 60L436.6 66L438.2 70L438.9 74L438 80L436 83.8L434 86.2L430 89.1L424 91.5L418 92.4L412 92.2L404 90.4L398 87.9L392 84.1L387.5 80L384.5 76L381.8 70L381.2 64L382 60L384.1 56L388 52.2L392 49.9ZM255.1 62L258 60.7L262 60.1L266 60.7L270 62.7L272.8 66L273.8 70L272.8 74L271.4 76L268 78.5L264 79.8L258 79.3L254 77.3L251.2 74L250.2 70L251.2 66L252.6 64ZM257 94L260 92.4L262 92.2L266 93.3L268.5 96L268.9 98L268.5 100L267 102L264 103.6L260 103.6L258 102.7L255.5 100L255.1 98L255.5 96ZM28.1 98L40 97L51.9 98L58.8 100L61.4 102L61.4 104L58.8 106L54 107.5L48 108.5L40 109L32 108.5L26 107.5L21.2 106L18.6 104L18.6 102L21.2 100Z"/>
<path fill="#4393c3" d="M23.3 -10L56.7 -10L59.4 -4L60.5 0L60.8 8L60 12.1L58 17.2L56 20.4L52 24.6L46 27.9L42 28.8L38 28.8L32 27.1L28 24.6L25.3 22L22.4 18L20.6 14L19.1 6L20 -2ZM339.5 -8L340.3 -10L399.7 -10L401.2 -6L401.2 -4L400.5 -2L398 0.9L394 3.6L390 5.3L378 8L366 8.4L354 6.6L348 4.6L344 2.5L341 0L339.5 -2L338.8 -4ZM399.8 58L404 56.9L410 57.1L416 58.9L421 62L424.7 66L426.6 70L426.9 74L425.4 78L423.6 80L420.2 82L414 83.2L410 82.9L406 81.9L399 78L396 75L394.1 72L393 68L393.1 66L394.6 62L396.4 60Z"/>
<path fill="#2166ac" d="M31.9 -8L34.1 -10L45.9 -10L50 -6.1L52 -3L53.2 0L53.9 4L53.2 10L50.1 16L46 19.3L42 20.7L36 20.2L32 18L28 13L26.3 8L26.3 2L28.5 -4Z"/>
<use href="#coast"/>
<path class="er" d="M120.6 -10L125 6L127.7 22L128.9 40L128.4 60L126.2 78L122.4 94L118 105.2L111.3 116M314.8 -10L314.6 0L312.7 8L308.9 16L304 22.4L300.3 26L296 29.2L288 33.4L280 35.9L270 37L260 35.9L252 33.4L244 29.2L239.7 26L236 22.4L231.1 16L227.3 8L225.4 0L225.2 -10M-4.7 4L-4 3.4L-2 3.8L0 7.3L1.6 18L1.2 24L0 30.8L-2 34.8L-4 35.9L-6 34.3L-7.9 30L-9.1 26L-9.7 20L-8.6 12L-6.3 6L-4.7 4M486 48.5L482 49.6L478 49.6L474.2 48L472 46.2L470 43.8L468 40L466.7 36L466.1 30L466.7 24L468 20L470 16.2L472 13.8L474.2 12L478 10.4L482 10.4L486 11.5M92.7 116L86 105.2L81.6 94L80 88L78 77.6L76.4 62L75.8 40L76.7 22L79 6L83.4 -10M312.5 116L310.9 112L310.2 108L310.9 104L314 99.2L318 95.9L324 93L330 91.5L336 91.1L342 91.5L348 93L354 95.9L358 99.2L361.1 104L361.8 108L361.1 112L359.5 116M296.6 -10L296.9 -4L295.8 2L293 8L290 11.8L286 15.2L280.8 18L276 19.5L270 20.1L264 19.5L259.2 18L254 15.2L250 11.8L247 8L244.2 2L243.1 -4L243.4 -10M99.9 20L102 19.3L104 19.9L106 21.8L108 25.2L110.1 32L111.4 42L111.1 52L109 62L106 68.2L104 70.1L102 70.7L100 70.1L98 68.2L96 64.8L93.9 58L92.6 48L92.9 38L94.4 30L96.7 24L98 21.8L99.9 20"/><path class="er dash" d="M31.4 -10L26 -5.8L22 -1.1L19 4L16 10.8L12 25L10 37.6L9.2 48L9 58L9.5 68L10.7 78L12.6 88L14.9 96L18 104L20 108L25.4 116M151.5 -10L148.8 2L148 12L149.1 24L152 34.3L156 42.5L158.4 46L162 50L166 53.1L170 55.3L174 56.5L178 56.9L182 56.5L186 55.3L190 53.1L194 50L197.6 46L200 42.5L204 34.3L206.9 24L208 12L207.2 2L204.5 -10M357.3 -10L357.2 -2L359 6L363.1 14L368.2 20L376 26L384 29.8L392 32L402 33L412 32L420 29.8L428 26L435.8 20L440.9 14L445 6L446.8 -2L446.7 -10M240 72.9L238.3 74L236.8 76L236.4 78L236.8 80L238 81.7L240 83.1L242 83.6L244 83.6L247.7 82L249.2 80L249.6 78L249.2 76L248 74.3L246 72.9L244 72.4L240 72.9M44.6 116L50 108L52 104L55.1 96L57.4 88L59.3 78L60.5 68L60.9 58L60.8 48L60.1 38L58.6 28L56.3 18L54 10.8L51 4L48 -1.1L44 -5.8L38.6 -10M178 -8.3L174 -7.2L172 -5.9L168.4 -2L165.7 4L164.6 12L165.7 20L168.4 26L172.1 30L174 31.1L178 32L182 31.1L183.9 30L187.6 26L190.3 20L191.4 12L190.3 4L187.6 -2L184 -5.9L182 -7.2L178 -8.3M384.8 -10L384.2 -6L384.5 -2L386 1.6L387.7 4L390 6.2L394 8.5L398 9.7L402 10.1L406 9.7L410 8.5L414 6.2L416.3 4L418 1.6L419.5 -2L419.8 -6L419.2 -10"/>
</g>
<path d="M635 367V362.5M635 471.8V476.3M793.3 367V362.5M793.3 471.8V476.3M951.7 367V362.5M951.7 471.8V476.3M1110 367V362.5M1110 471.8V476.3M635 367H630M1110 367H1115M635 393.2H630M1110 393.2H1115M635 419.4H630M1110 419.4H1115M635 445.6H630M1110 445.6H1115M635 471.8H630M1110 471.8H1115" stroke="#000" stroke-width="2.2" fill="none"/><path d="M661.4 367V364.4M661.4 471.8V474.4M687.8 367V364.4M687.8 471.8V474.4M714.2 367V364.4M714.2 471.8V474.4M740.6 367V364.4M740.6 471.8V474.4M766.9 367V364.4M766.9 471.8V474.4M819.7 367V364.4M819.7 471.8V474.4M846.1 367V364.4M846.1 471.8V474.4M872.5 367V364.4M872.5 471.8V474.4M898.9 367V364.4M898.9 471.8V474.4M925.3 367V364.4M925.3 471.8V474.4M978.1 367V364.4M978.1 471.8V474.4M1004.4 367V364.4M1004.4 471.8V474.4M1030.8 367V364.4M1030.8 471.8V474.4M1057.2 367V364.4M1057.2 471.8V474.4M1083.6 367V364.4M1083.6 471.8V474.4M635 372.2H632.2M1110 372.2H1112.8M635 377.5H632.2M1110 377.5H1112.8M635 382.7H632.2M1110 382.7H1112.8M635 388H632.2M1110 388H1112.8M635 398.4H632.2M1110 398.4H1112.8M635 403.7H632.2M1110 403.7H1112.8M635 408.9H632.2M1110 408.9H1112.8M635 414.2H632.2M1110 414.2H1112.8M635 424.6H632.2M1110 424.6H1112.8M635 429.9H632.2M1110 429.9H1112.8M635 435.1H632.2M1110 435.1H1112.8M635 440.4H632.2M1110 440.4H1112.8M635 450.8H632.2M1110 450.8H1112.8M635 456.1H632.2M1110 456.1H1112.8M635 461.3H632.2M1110 461.3H1112.8M635 466.6H632.2M1110 466.6H1112.8" stroke="#000" stroke-width="1.2" fill="none"/><rect x="635" y="367" width="475" height="104.8" fill="none" stroke="#000" stroke-width="2.4"/>
<text class="t26" transform="translate(633 360.8) scale(1.012 1.04)">1-Mar to 3-Mar</text>
<g transform="translate(635 536)" clip-path="url(#c13)">
<rect width="475" height="104.8" fill="#f8f8f8"/>
<path fill="#fddbc7" d="M221.2 -8L223.7 -10L296.3 -10L303.4 -4L304.9 0L304 6L310.1 12L313.6 18L314.9 24L314.7 28L313.6 32L311.6 36L308.2 40L304 43.2L300 45.1L296 46.3L290 47L286 46.6L282 45.6L276 41.9L272 37.2L270 34.1L267.2 26L266.4 18L260.2 16L242 14L233.6 12L223.3 8L218 4.2L216 0.9L215.8 -2L218 -5.4ZM464.9 -8L466.2 -10L486 -10L486 52.9L482 54.3L478 54.9L474 54.3L468 51.1L464.9 48L462 43.9L457.9 34L456.2 24L456.6 12L458 5.7L460 0ZM16.8 -6L26 -7L34 -5.8L42 -2.5L48 2L50 4.4L52 8.6L54 16.2L54.4 22L52.8 28L54 29.3L58.2 26L60 25.2L74 22.8L80 21L84 19.1L91.4 14L102 3L104 1.7L108 0.9L114 0.7L124 2.2L128 3.8L132 6.1L136 9.7L139.1 14L140.8 18L142.1 24L142.3 30L141.5 34L130.8 52L120 72.3L116.8 76L112 80L105.7 84L97.5 88L85.6 92L78 93.3L72 93.6L61.2 92L52 88.1L45.9 84L40.2 78L37.8 74L36.4 70L36.2 66L38 58L41.2 50L48.2 36L48 35.3L40 39.6L34 41.8L28 42.8L20 42.6L16 41.5L3.2 34L-1.2 30L-3.4 26L-4.6 22L-4.8 16L-3.4 10L-1.2 6L2 2L6 -1.3L10.9 -4ZM52 29.7L52 30.3L52.4 30ZM308.2 58L326 56.4L342 57.3L348 58.5L354 60.6L359.8 64L361.3 66L361.7 68L361.2 70L356.1 78L344 90.3L335.5 96L334.9 98L334.9 102L333.6 106L330 109.8L326 112L318 113.9L314 114L308 113.3L304 112L300 110L294 104.4L292 103.7L282 103.2L272 101.6L270 102.4L264.6 110L259.3 116L176.5 116L174.5 112L173.6 108L174 103.3L176 96.9L180 88.1L182 84.8L184.6 82L191.9 78L203.1 74L211.4 72L230 69.8L240 69.8L246 70.5L253.7 72L262 75L264 75.1L275.6 68L284 64.3L296 60.5Z"/>
<path fill="#f4a582" d="M232 -8L235.7 -10L284.3 -10L291.5 -6L293.9 -4L295.3 -2L295.7 0L295.3 2L294 3.9L291.5 6L286 8.8L280 10.6L266 12.6L248.4 12L240 10.5L234 8.7L228.5 6L226.1 4L224.7 2L224.3 0L224.7 -2L228 -5.6ZM477.2 10L480 10.3L482 12L484.1 16L484.8 20L484.1 24L482 28L480 29.7L478 30.2L476 29.7L474 28L472 24L471.5 20L472.8 14L474 12L476 10.3ZM98.7 14L106 13L114.5 14L118 15.2L122 17.7L126 22.1L128.4 28L128.9 36L127.2 44L122.6 54L117 62L109.4 70L101.8 76L92 81.7L82 85.4L74 86.7L70 86.8L64.2 86L58 83.5L54 80.4L52 77.8L50.2 74L49 68L49.1 64L50.2 58L52.3 52L55.4 46L62.7 36L71 28L74.4 26L86 20.9L94 15.9ZM30.5 26L32 24.9L33.5 26L32 27.1ZM214.8 80L224 78.5L232 78.8L240 80.8L245.7 84L249.5 88L250.6 90L251.6 94L250.6 100L248.5 104L242.3 110L231.3 116L204.5 116L198.3 112L194.5 108L192.7 104L192.4 100L194.3 94L197.2 90L202 85.8L208 82.4ZM308.7 96L312 95.1L316 94.9L322 96.3L324.7 98L326.2 100L326.7 102L326.2 104L324 106.5L321.3 108L318 108.9L312 108.9L308 107.7L305.3 106L303.8 104L303.3 102L303.8 100L305.3 98Z"/>
<path fill="#d6604d" d="M95.4 26L100 25.4L106 26L110.3 28L113.9 32L115.3 36L115.4 42L114.4 46L111.8 52L107.7 58L102 63.8L96 68.4L90 71.6L84 73.7L78 74.6L72 74L68 72.2L64.1 68L62.4 62L63 56L66.2 48L72 40.1L78.6 34L86 29.4Z"/>
<path fill="#b2182b" d="M92.8 38L98 38.3L100.5 40L101.7 42L102.1 46L99.7 52L94.1 58L88 61.3L82 62.1L78 60.5L76.3 58L75.8 56L76.4 52L78.3 48L84 41.9L88 39.5Z"/>
<path fill="#d1e5f0" d="M59.3 -8L60.1 -10L95.9 -10L98.5 -4L98.6 0L96.9 4L94.2 8L90.7 12L85.8 16L82 18.2L76 20.3L70 21.1L64 20.8L61.9 20L60 16.8L57.5 8L57.1 4L57.4 -2ZM331.9 -8L332.7 -10L447.3 -10L449.5 -4L449.8 2L448 8L443.9 14L436.8 20L428 24.7L418 28.3L406 30.8L394 31.9L380 31.5L368 29.8L358 27L348 22.8L340 17.6L334.5 12L331.1 6L330.1 0L330.5 -4ZM198.4 12L208 10.4L216 10.3L228.1 14L230 15L235.4 16L240 17.7L243.8 18L249.5 20L252.6 22L256 25.5L258 28.9L264.3 44L264.4 50L261.4 58L256.8 64L254 65.1L236 65.6L220 66.8L206 69L188 72.8L186 72.8L182 71.6L180 73.7L170 97.7L166 103.7L162 105.8L156 106.9L150 106.4L144 104L139 100L130 89.6L126.7 84L124.7 78L124.6 74L126 68L132 54.9L140 43.3L146 37.9L152 36.3L158 36.4L164 37.2L166 36.7L171.3 28L178 21.5L187.1 16ZM-6.2 42L-2 41.1L2.6 42L9 46L12.5 50L14.2 54L15 60L14.3 66L11.6 74L12 74.6L14 75.3L28 75L32 75.8L40.4 84L48 89.6L58 94.8L64 96.7L72 97.6L80 97.4L98 94L99.7 96L99 98L95.4 102L92.3 104L86 106.9L74 110.5L58 113.3L42 115L26 115.4L12 114.5L-10 111.5L-10 44.5ZM401.9 66L416 65.1L432 65.4L446 67.1L460 70.3L470 74.1L476 77.4L479.4 80L481.5 82L484.1 86L485 88L485 92L483 96L479.4 100L473.7 104L466 107.6L458 110.3L448 112.6L426 115.3L408 114.8L394 112.9L384 110.8L375 108L368 104.9L363.1 102L358.6 98L357.5 96L357.4 94L359.2 90L366 81.7L374 74.5L378 71.8L384 69.3L392 67.5Z"/>
<path fill="#92c5de" d="M74.3 -8L78 -8.9L80 -8.7L84 -6.8L86 -5.1L88.3 -2L90 4L89.3 8L86.6 12L84.3 14L80.7 16L76 17.1L72 16.5L70 15.1L67.7 12L66 6L66.3 2L68 -2.5L71 -6ZM351.9 -10L428.1 -10L431.2 -4L431.7 2L430 6.6L426 11.4L420 15.6L414 18.3L406 20.7L396 22.2L386 22.3L378 21.4L370 19.7L362 16.6L356 13.1L352 9.4L348.8 4L348.1 0L348.8 -4ZM193 32L200 30.9L205.6 32L207.5 34L207.8 36L207.3 38L204.8 42L202 44.5L196 48.5L192 50.3L186 52.3L182 53L178 53L174 51.7L172.5 50L172.2 48L172.8 46L175.5 42L180 38.2L184 35.7ZM145.8 50L152 48.3L156 48.5L160 49.8L163.2 52L166 55L167.8 58L169.1 62L169.6 66L169.4 70L168.4 74L166.6 78L164 81.5L161.3 84L158 86.1L154 87.4L148 87.5L142 85L137.3 80L134.9 74L134.4 70L134.6 66L136.4 60L140.4 54ZM435.1 80L436 79.6L438.8 80L439 82L436 82.5L434.9 82Z"/>
<path fill="#4393c3" d="M148 62L150 60.8L154 60.5L156 61.4L158.1 64L158.8 66L158.5 70L156 74L154 75.2L150 75.5L148 74.6L145.9 72L145.2 70L145.5 66Z"/>
<use href="#coast"/>
<path class="er" d="M279.4 -10L279.9 -4L279.1 0L277.4 4L274 8.5L269.6 12L264 14.8L258 16.4L252 16.9L246 16.4L240 14.8L234.4 12L230 8.5L226.6 4L224.9 0L224.1 -4L224.6 -10M84.3 10L88 9.6L92 9.8L98 11.3L104 14.5L107.9 18L110 20.5L112 23.7L113.9 28L115.3 34L116 42L115.2 52L113.4 60L110 67.6L105.7 74L100 80.2L94 84.8L86 88.7L78 90.4L72 90.2L66 88.7L62 86.8L58 83.9L54 79.5L50.7 74L48.6 68L47.6 62L47.9 56L49.8 50L53.9 42L64 27.4L70 20.1L76 14.3L80 11.6L84.3 10M486 22.4L484.5 24L481.4 26L478 26.8L476 26.5L474 25.8L471.8 24L470.7 22L470.3 20L470.7 18L471.8 16L474 14.2L476 13.5L478 13.2L481.4 14L484.5 16L486 17.6M289.8 116L286.6 110L285.7 106L286 102L286.6 100L288.9 96L293.1 92L298 89.3L304 87.5L310 87.1L316 87.7L322 89.7L326 92L330.1 96L332.4 100L333 102L333.3 106L332.4 110L329.2 116M267.9 -10L268.6 -4L267.3 0L266 2L264 4.1L260 6.5L256 7.7L252 8.1L248 7.7L244 6.5L240 4.1L238 2L236.7 0L235.4 -4L236.1 -10M83.8 34L88 34.5L90.7 36L92.8 38L94.2 40L95.5 44L95.6 50L93.7 56L92 58.8L89.1 62L84 65.2L80 66L78 65.9L76 65.5L73.3 64L70 60.3L68.5 56L68.4 50L70.4 44L74 38.8L78 35.7L80 34.8L83.8 34"/><path class="er dash" d="M20 -10L16.2 -2L14.3 6L14.3 14L16.2 22L20 29L24.5 34L28 36.5L32 38.5L38 39.6L40 39.3L44 36.9L50 30.7L58 20.1L63.8 10L65 6L64.9 2L63.8 -2L60 -10M341.2 -10L340.3 -6L340.8 -2L343.4 2L348.6 6L354 8.6L362 11L370 12.4L380 13L390 12.4L398 11L406 8.6L411.4 6L416.6 2L419.2 -2L419.7 -6L418.8 -10M152 11.4L146.6 14L142 17.6L138.2 22L135.8 26L133.5 32L132.3 38L132.1 44L133 50L134.9 56L138 61.7L141.6 66L146 69.6L150.5 72L156 73.6L162 73.8L166 73.2L172 70.8L176 68.2L180.2 64L184 58.3L186.5 52L187.7 46L187.9 40L187.1 34L185.1 28L182 22.3L178.4 18L174 14.4L169.5 12L164 10.4L158 10.2L152 11.4M-10 50.9L-8.2 52L-4 53.4L2 53.8L8 52L9.9 50L9.9 48L8 46L6 45.1L0 44.1L-6 45.1L-10 47.1"/>
</g>
<path d="M635 536V531.5M635 640.8V645.3M793.3 536V531.5M793.3 640.8V645.3M951.7 536V531.5M951.7 640.8V645.3M1110 536V531.5M1110 640.8V645.3M635 536H630M1110 536H1115M635 562.2H630M1110 562.2H1115M635 588.4H630M1110 588.4H1115M635 614.6H630M1110 614.6H1115M635 640.8H630M1110 640.8H1115" stroke="#000" stroke-width="2.2" fill="none"/><path d="M661.4 536V533.4M661.4 640.8V643.4M687.8 536V533.4M687.8 640.8V643.4M714.2 536V533.4M714.2 640.8V643.4M740.6 536V533.4M740.6 640.8V643.4M766.9 536V533.4M766.9 640.8V643.4M819.7 536V533.4M819.7 640.8V643.4M846.1 536V533.4M846.1 640.8V643.4M872.5 536V533.4M872.5 640.8V643.4M898.9 536V533.4M898.9 640.8V643.4M925.3 536V533.4M925.3 640.8V643.4M978.1 536V533.4M978.1 640.8V643.4M1004.4 536V533.4M1004.4 640.8V643.4M1030.8 536V533.4M1030.8 640.8V643.4M1057.2 536V533.4M1057.2 640.8V643.4M1083.6 536V533.4M1083.6 640.8V643.4M635 541.2H632.2M1110 541.2H1112.8M635 546.5H632.2M1110 546.5H1112.8M635 551.7H632.2M1110 551.7H1112.8M635 557H632.2M1110 557H1112.8M635 567.4H632.2M1110 567.4H1112.8M635 572.7H632.2M1110 572.7H1112.8M635 577.9H632.2M1110 577.9H1112.8M635 583.2H632.2M1110 583.2H1112.8M635 593.6H632.2M1110 593.6H1112.8M635 598.9H632.2M1110 598.9H1112.8M635 604.1H632.2M1110 604.1H1112.8M635 609.4H632.2M1110 609.4H1112.8M635 619.8H632.2M1110 619.8H1112.8M635 625.1H632.2M1110 625.1H1112.8M635 630.3H632.2M1110 630.3H1112.8M635 635.6H632.2M1110 635.6H1112.8" stroke="#000" stroke-width="1.2" fill="none"/><rect x="635" y="536" width="475" height="104.8" fill="none" stroke="#000" stroke-width="2.4"/>
<text class="t26" transform="translate(633 529.8) scale(1.012 1.04)">4-Mar to 6-Mar</text>
<text class="t26" x="635" y="683" text-anchor="middle">180</text>
<text class="t26" x="793.3" y="683" text-anchor="middle">120W</text>
<text class="t26" x="951.7" y="683" text-anchor="middle">60W</text>
<text class="t26" x="1110" y="683" text-anchor="middle">0</text>
<rect x="173.5" y="728.5" width="41.1" height="17" fill="#053061" stroke="#000" stroke-width="1"/>
<rect x="214.6" y="728.5" width="41.1" height="17" fill="#2166ac" stroke="#000" stroke-width="1"/>
<rect x="255.7" y="728.5" width="41.1" height="17" fill="#4393c3" stroke="#000" stroke-width="1"/>
<rect x="296.8" y="728.5" width="41.1" height="17" fill="#92c5de" stroke="#000" stroke-width="1"/>
<rect x="337.9" y="728.5" width="41.1" height="17" fill="#d1e5f0" stroke="#000" stroke-width="1"/>
<rect x="379" y="728.5" width="41.1" height="17" fill="#f8f8f8" stroke="#000" stroke-width="1"/>
<rect x="420.1" y="728.5" width="41.1" height="17" fill="#fddbc7" stroke="#000" stroke-width="1"/>
<rect x="461.2" y="728.5" width="41.1" height="17" fill="#f4a582" stroke="#000" stroke-width="1"/>
<rect x="502.3" y="728.5" width="41.1" height="17" fill="#d6604d" stroke="#000" stroke-width="1"/>
<rect x="543.4" y="728.5" width="41.1" height="17" fill="#b2182b" stroke="#000" stroke-width="1"/>
<rect x="584.5" y="728.5" width="41.1" height="17" fill="#67001f" stroke="#000" stroke-width="1"/>
<text x="214.6" y="767" font-size="23" text-anchor="middle">-18</text>
<text x="255.7" y="767" font-size="23" text-anchor="middle">-14</text>
<text x="296.8" y="767" font-size="23" text-anchor="middle">-10</text>
<text x="337.9" y="767" font-size="23" text-anchor="middle">-6</text>
<text x="379" y="767" font-size="23" text-anchor="middle">-2</text>
<text x="420.1" y="767" font-size="23" text-anchor="middle">2</text>
<text x="461.2" y="767" font-size="23" text-anchor="middle">6</text>
<text x="502.3" y="767" font-size="23" text-anchor="middle">10</text>
<text x="543.4" y="767" font-size="23" text-anchor="middle">14</text>
<text x="584.5" y="767" font-size="23" text-anchor="middle">18</text>
<text class="t21" x="657" y="756.5">m s-1</text>
<text x="142.5" y="821" font-size="38.6">3-day VWND200 with CFS forecasts</text>
<text class="sm" x="4.5" y="849.5" font-size="15.3">ncics.org/mjo</text>
<text class="sm" x="501.5" y="850" font-size="10.9">Mon 2026-02-23 1113 UTC</text>
<path d="M817.5 718.2H870" stroke="#000" stroke-width="2"/>
<path d="M817.5 748.2H870" stroke="#a030f0" stroke-width="2.2"/>
<path d="M986.5 718.2H1036.5" stroke="#0000ff" stroke-width="2"/>
<path d="M986.5 748.2H1036.5" stroke="#ff0000" stroke-width="2"/>
<text class="t21" x="880" y="726">MJO</text>
<text class="t21" x="880" y="756">Low</text>
<text class="t21" x="1046" y="726" textLength="81" lengthAdjust="spacingAndGlyphs">Kelvin x2</text>
<text class="t21" x="1046" y="756">ER</text>
<text x="814.5" y="805.7" font-size="19.8">Contours every 4 m s-1</text>
<text class="sm" x="1129.7" y="829.2" font-size="15.3" text-anchor="end">Carl Schreck</text>
<text class="sm" x="1129.7" y="850.5" font-size="15.3" text-anchor="end">carl_schreck@ncsu.edu</text>
<defs><clipPath id="lg"><circle cx="72.4" cy="756.2" r="61.4"/></clipPath><linearGradient id="sun" x1="0" y1="0" x2="0" y2="1"><stop offset="0" stop-color="#ffc400"/><stop offset="1" stop-color="#f6a90c"/></linearGradient></defs>
<g clip-path="url(#lg)">
<rect x="10" y="694" width="126" height="126" fill="#0b0b6b"/>
<rect x="10" y="694" width="126" height="46" fill="url(#sun)"/>
<polygon fill="#3b4190" points="9.4,721.4 23.6,718.7 42.4,721.1 62.8,726.4 81.7,729.3 86.4,730.5 102.1,725.3 124.1,723.5 130.4,726.1 136.7,737.1 136.7,778.0 9.4,778.0"/>
<polygon fill="#6d73ab" points="9.4,732.4 17.3,729.3 26.7,726.6 37.7,734.0 47.1,735.6 66.0,725.8 84.8,732.1 69.1,740.6 47.1,742.6 15.7,752.0 9.4,752.8"/>
<polygon fill="#6b76d3" points="69.1,740.6 81.7,741.1 94.3,739.0 110.0,735.6 130.4,732.1 136.7,734.0 136.7,778.0 9.4,778.0 9.4,765.4 31.4,759.1 66.0,751.3 75.4,743.4"/>
<polygon fill="#9ea5e3" points="14.9,751.6 31.4,745.0 47.1,741.8 69.1,740.6 75.4,742.6 73.8,745.8 66.0,750.5 47.1,753.1 31.4,754.7 20.4,754.1"/>
<polygon fill="#3c4bc2" points="9.4,750.5 14.9,751.6 20.4,754.1 31.4,754.7 47.1,754.1 37.7,758.3 20.4,764.6 14.1,769.3 9.4,771.7"/>
<polygon fill="#0b0b6b" points="9.4,772.5 13.4,772.5 20.4,773.3 26.7,769.3 33.0,763.8 40.8,770.9 45.6,767.8 53.4,772.5 61.3,763.8 68.3,756.8 72.3,757.5 78.5,764.6 84.8,770.9 89.5,767.0 93.5,761.5 96.6,765.4 100.5,772.5 104.5,767.0 108.4,763.0 119.4,754.4 133.5,745.0 138.2,741.8 138.2,820.4 9.4,820.4"/>
<polyline fill="none" stroke="#e01020" stroke-width="1.7" stroke-linejoin="round" points="9.4,772.5 13.4,772.5 20.4,773.3 26.7,769.3 33.0,763.8 40.8,770.9 45.6,767.8 53.4,772.5 61.3,763.8 68.3,756.8 72.3,757.5 78.5,764.6 84.8,770.9 89.5,767.0 93.5,761.5 96.6,765.4 100.5,772.5 104.5,767.0 108.4,763.0 119.4,754.4 133.5,745.0 138.2,741.8"/>
</g>
<text x="73.8" y="797.6" text-anchor="middle" font-size="24" font-weight="bold" letter-spacing="2" style="fill:#fff;stroke:none">NCICS</text>
</svg></body></html>
